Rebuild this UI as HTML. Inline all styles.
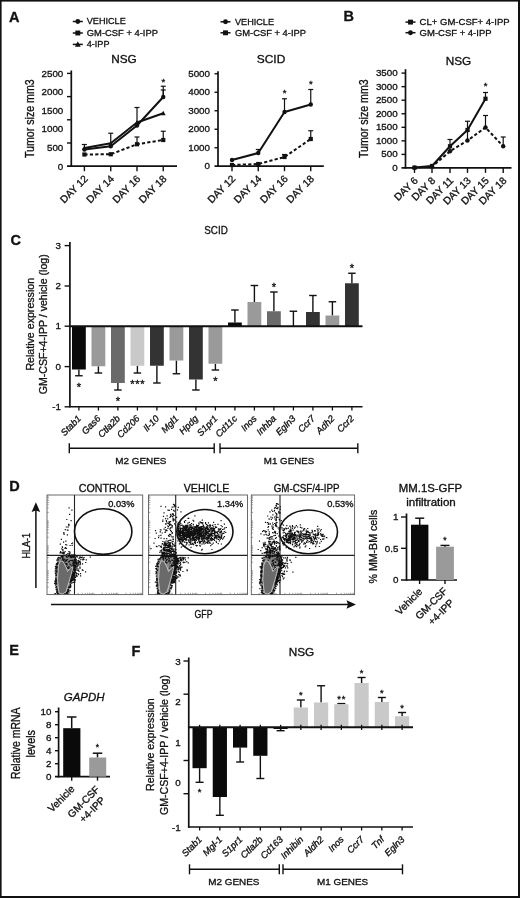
<!DOCTYPE html>
<html><head><meta charset="utf-8"><title>Figure</title>
<style>html,body{margin:0;padding:0;background:#fff}svg{display:block;filter:grayscale(1);font-family:"Liberation Sans",sans-serif}text{stroke:#111;stroke-width:.32px}</style></head>
<body>
<svg width="520" height="898" viewBox="0 0 520 898"  fill="#111">
<rect x="0" y="0" width="520" height="898" fill="#fff"/>
<rect x="0" y="0" width="520" height="1.6" fill="#111"/>
<rect x="0" y="0" width="1.6" height="898" fill="#111"/>
<rect x="518" y="0" width="2" height="898" fill="#111"/>
<rect x="0" y="896" width="520" height="2" fill="#111"/>
<text font-size="14.5" font-weight="bold" x="9" y="22">A</text>
<text font-size="14.5" font-weight="bold" x="343.5" y="20.5">B</text>
<text font-size="14.5" font-weight="bold" x="10.5" y="245.2">C</text>
<text font-size="14.5" font-weight="bold" x="9.2" y="491">D</text>
<text font-size="14.5" font-weight="bold" x="9.2" y="655.4">E</text>
<text font-size="14.5" font-weight="bold" x="131.5" y="656">F</text>
<line x1="72.8" y1="21.5" x2="82.8" y2="21.5" stroke="#111" stroke-width="1.5"/>
<circle cx="77.8" cy="21.5" r="2.45" fill="#111"/>
<text font-size="9.9" textLength="39" lengthAdjust="spacingAndGlyphs" x="86.75" y="24.4">VEHICLE</text>
<line x1="72.8" y1="33" x2="82.8" y2="33" stroke="#111" stroke-width="1.5"/>
<rect x="75.35" y="30.55" width="4.9" height="4.9" fill="#111"/>
<text font-size="9.9" textLength="71.25" lengthAdjust="spacingAndGlyphs" x="86.75" y="35.9">GM-CSF + 4-IPP</text>
<line x1="72.8" y1="44.4" x2="82.8" y2="44.4" stroke="#111" stroke-width="1.5"/>
<polygon points="74.94999999999999,46.85 80.65,46.85 77.8,41.349999999999994" fill="#111"/>
<text font-size="9.9" textLength="22.75" lengthAdjust="spacingAndGlyphs" x="86.75" y="47.3">4-IPP</text>
<line x1="220.5" y1="21.8" x2="230.5" y2="21.8" stroke="#111" stroke-width="1.5"/>
<circle cx="225.5" cy="21.8" r="2.45" fill="#111"/>
<text font-size="9.9" textLength="39" lengthAdjust="spacingAndGlyphs" x="235" y="24.7">VEHICLE</text>
<line x1="220.5" y1="32.8" x2="230.5" y2="32.8" stroke="#111" stroke-width="1.5"/>
<rect x="223.05" y="30.349999999999998" width="4.9" height="4.9" fill="#111"/>
<text font-size="9.9" textLength="71" lengthAdjust="spacingAndGlyphs" x="235" y="35.699999999999996">GM-CSF + 4-IPP</text>
<line x1="405.5" y1="22.1" x2="415.5" y2="22.1" stroke="#111" stroke-width="1.5"/>
<rect x="408.05" y="19.650000000000002" width="4.9" height="4.9" fill="#111"/>
<text font-size="9.9" textLength="90" lengthAdjust="spacingAndGlyphs" x="419.6" y="25.0">CL+ GM-CSF+ 4-IPP</text>
<line x1="405.5" y1="32.7" x2="415.5" y2="32.7" stroke="#111" stroke-width="1.5"/>
<circle cx="410.5" cy="32.7" r="2.45" fill="#111"/>
<text font-size="9.9" textLength="72" lengthAdjust="spacingAndGlyphs" x="419.6" y="35.6">GM-CSF + 4-IPP</text>
<text font-size="11.5" text-anchor="middle" textLength="25.5" lengthAdjust="spacingAndGlyphs" x="124" y="63.3">NSG</text>
<text font-size="11.5" text-anchor="middle" textLength="28.5" lengthAdjust="spacingAndGlyphs" x="271" y="63.1">SCID</text>
<text font-size="11.5" text-anchor="middle" textLength="25.5" lengthAdjust="spacingAndGlyphs" x="458.5" y="65.0">NSG</text>
<text font-size="13" textLength="78.7" lengthAdjust="spacingAndGlyphs" transform="translate(34.4 158) rotate(-90)">Tumor size mm3</text>
<text font-size="13" textLength="78.7" lengthAdjust="spacingAndGlyphs" transform="translate(367.9 158) rotate(-90)">Tumor size mm3</text>
<line x1="71.3" y1="70.5" x2="71.3" y2="167.0" stroke="#111" stroke-width="1.7"/>
<line x1="67" y1="166.2" x2="177" y2="166.2" stroke="#111" stroke-width="1.7"/>
<line x1="67" y1="73.4" x2="71.3" y2="73.4" stroke="#111" stroke-width="1.4"/>
<line x1="67" y1="96.6" x2="71.3" y2="96.6" stroke="#111" stroke-width="1.4"/>
<line x1="67" y1="119.8" x2="71.3" y2="119.8" stroke="#111" stroke-width="1.4"/>
<line x1="67" y1="143" x2="71.3" y2="143" stroke="#111" stroke-width="1.4"/>
<text font-size="9.8" text-anchor="end" x="63.3" y="76.8">2500</text>
<text font-size="9.8" text-anchor="end" x="63.3" y="95.3">2000</text>
<text font-size="9.8" text-anchor="end" x="63.3" y="113.8">1500</text>
<text font-size="9.8" text-anchor="end" x="63.3" y="132.4">1000</text>
<text font-size="9.8" text-anchor="end" x="63.3" y="150.9">500</text>
<text font-size="9.8" text-anchor="end" x="63.3" y="169.70000000000002">0</text>
<line x1="84.4" y1="166.2" x2="84.4" y2="171.2" stroke="#111" stroke-width="1.4"/>
<line x1="110.75" y1="166.2" x2="110.75" y2="171.2" stroke="#111" stroke-width="1.4"/>
<line x1="137" y1="166.2" x2="137" y2="171.2" stroke="#111" stroke-width="1.4"/>
<line x1="163.25" y1="166.2" x2="163.25" y2="171.2" stroke="#111" stroke-width="1.4"/>
<text font-size="10.2" text-anchor="end" transform="translate(88.4 179.5) rotate(-45)">DAY 12</text>
<text font-size="10.2" text-anchor="end" transform="translate(114.75 179.5) rotate(-45)">DAY 14</text>
<text font-size="10.2" text-anchor="end" transform="translate(141.0 179.5) rotate(-45)">DAY 16</text>
<text font-size="10.2" text-anchor="end" transform="translate(167.25 179.5) rotate(-45)">DAY 18</text>
<line x1="84.4" y1="148" x2="84.4" y2="144.5" stroke="#111" stroke-width="1.2"/>
<line x1="81.9" y1="144.5" x2="86.9" y2="144.5" stroke="#111" stroke-width="1.2"/>
<line x1="110.75" y1="143" x2="110.75" y2="133.25" stroke="#111" stroke-width="1.2"/>
<line x1="108.25" y1="133.25" x2="113.25" y2="133.25" stroke="#111" stroke-width="1.2"/>
<line x1="137" y1="122.5" x2="137" y2="107.5" stroke="#111" stroke-width="1.2"/>
<line x1="134.5" y1="107.5" x2="139.5" y2="107.5" stroke="#111" stroke-width="1.2"/>
<line x1="163.25" y1="97" x2="163.25" y2="86.25" stroke="#111" stroke-width="1.2"/>
<line x1="160.75" y1="86.25" x2="165.75" y2="86.25" stroke="#111" stroke-width="1.2"/>
<line x1="163.25" y1="97" x2="163.25" y2="90" stroke="#111" stroke-width="1.2"/>
<line x1="160.75" y1="90" x2="165.75" y2="90" stroke="#111" stroke-width="1.2"/>
<line x1="137" y1="144.25" x2="137" y2="137" stroke="#111" stroke-width="1.2"/>
<line x1="134.5" y1="137" x2="139.5" y2="137" stroke="#111" stroke-width="1.2"/>
<line x1="163.25" y1="140" x2="163.25" y2="131.25" stroke="#111" stroke-width="1.2"/>
<line x1="160.75" y1="131.25" x2="165.75" y2="131.25" stroke="#111" stroke-width="1.2"/>
<polyline points="84.4,154.5 110.75,154.25 137,144.25 163.25,140" fill="none" stroke="#111" stroke-width="2.0" stroke-linejoin="round" stroke-dasharray="3.2 2.2"/>
<polyline points="84.4,148 110.75,143.25 137,122.5 163.25,113.25" fill="none" stroke="#111" stroke-width="2.0" stroke-linejoin="round"/>
<polyline points="84.4,149.5 110.75,146.25 137,125.5 163.25,97" fill="none" stroke="#111" stroke-width="2.0" stroke-linejoin="round"/>
<circle cx="84.4" cy="149.5" r="2.2" fill="#111"/>
<circle cx="110.75" cy="146.25" r="2.2" fill="#111"/>
<circle cx="137" cy="125.5" r="2.2" fill="#111"/>
<circle cx="163.25" cy="97" r="2.2" fill="#111"/>
<polygon points="82.0,150.0 86.80000000000001,150.0 84.4,145.4" fill="#111"/>
<polygon points="108.35,145.25 113.15,145.25 110.75,140.65" fill="#111"/>
<polygon points="134.6,124.5 139.4,124.5 137,119.9" fill="#111"/>
<polygon points="160.85,115.25 165.65,115.25 163.25,110.65" fill="#111"/>
<rect x="82.30000000000001" y="152.4" width="4.2" height="4.2" fill="#111"/>
<rect x="108.65" y="152.15" width="4.2" height="4.2" fill="#111"/>
<rect x="134.9" y="142.15" width="4.2" height="4.2" fill="#111"/>
<rect x="161.15" y="137.9" width="4.2" height="4.2" fill="#111"/>
<text font-size="9.5" text-anchor="middle" x="163.25" y="85.1">*</text>
<line x1="218" y1="71.2" x2="218" y2="167.0" stroke="#111" stroke-width="1.7"/>
<line x1="214.5" y1="166.2" x2="323.8" y2="166.2" stroke="#111" stroke-width="1.7"/>
<line x1="214.5" y1="73.75" x2="218" y2="73.75" stroke="#111" stroke-width="1.4"/>
<text font-size="9.8" text-anchor="end" x="210" y="76.75">5000</text>
<line x1="214.5" y1="92.25" x2="218" y2="92.25" stroke="#111" stroke-width="1.4"/>
<text font-size="9.8" text-anchor="end" x="210" y="95.25">4000</text>
<line x1="214.5" y1="110.75" x2="218" y2="110.75" stroke="#111" stroke-width="1.4"/>
<text font-size="9.8" text-anchor="end" x="210" y="113.75">3000</text>
<line x1="214.5" y1="129.25" x2="218" y2="129.25" stroke="#111" stroke-width="1.4"/>
<text font-size="9.8" text-anchor="end" x="210" y="132.25">2000</text>
<line x1="214.5" y1="147.75" x2="218" y2="147.75" stroke="#111" stroke-width="1.4"/>
<text font-size="9.8" text-anchor="end" x="210" y="150.75">1000</text>
<text font-size="9.8" text-anchor="end" x="210" y="169.25">0</text>
<line x1="232" y1="166.2" x2="232" y2="171.2" stroke="#111" stroke-width="1.4"/>
<line x1="258.25" y1="166.2" x2="258.25" y2="171.2" stroke="#111" stroke-width="1.4"/>
<line x1="284.5" y1="166.2" x2="284.5" y2="171.2" stroke="#111" stroke-width="1.4"/>
<line x1="310.75" y1="166.2" x2="310.75" y2="171.2" stroke="#111" stroke-width="1.4"/>
<text font-size="10.2" text-anchor="end" transform="translate(236.0 179.5) rotate(-45)">DAY 12</text>
<text font-size="10.2" text-anchor="end" transform="translate(262.25 179.5) rotate(-45)">DAY 14</text>
<text font-size="10.2" text-anchor="end" transform="translate(288.5 179.5) rotate(-45)">DAY 16</text>
<text font-size="10.2" text-anchor="end" transform="translate(314.75 179.5) rotate(-45)">DAY 18</text>
<line x1="258.25" y1="153" x2="258.25" y2="149.5" stroke="#111" stroke-width="1.2"/>
<line x1="255.75" y1="149.5" x2="260.75" y2="149.5" stroke="#111" stroke-width="1.2"/>
<line x1="284.5" y1="112" x2="284.5" y2="98.75" stroke="#111" stroke-width="1.2"/>
<line x1="282.0" y1="98.75" x2="287.0" y2="98.75" stroke="#111" stroke-width="1.2"/>
<line x1="310.75" y1="104.5" x2="310.75" y2="89.5" stroke="#111" stroke-width="1.2"/>
<line x1="308.25" y1="89.5" x2="313.25" y2="89.5" stroke="#111" stroke-width="1.2"/>
<line x1="310.75" y1="139" x2="310.75" y2="130.75" stroke="#111" stroke-width="1.2"/>
<line x1="308.25" y1="130.75" x2="313.25" y2="130.75" stroke="#111" stroke-width="1.2"/>
<line x1="284.5" y1="157" x2="284.5" y2="154.5" stroke="#111" stroke-width="1.2"/>
<line x1="282.0" y1="154.5" x2="287.0" y2="154.5" stroke="#111" stroke-width="1.2"/>
<polyline points="232,165 258.25,164 284.5,157 310.75,139" fill="none" stroke="#111" stroke-width="2.0" stroke-linejoin="round" stroke-dasharray="3.2 2.2"/>
<polyline points="232,160 258.25,153 284.5,112 310.75,104.5" fill="none" stroke="#111" stroke-width="2.0" stroke-linejoin="round"/>
<circle cx="232" cy="160" r="2.2" fill="#111"/>
<circle cx="258.25" cy="153" r="2.2" fill="#111"/>
<circle cx="284.5" cy="112" r="2.2" fill="#111"/>
<circle cx="310.75" cy="104.5" r="2.2" fill="#111"/>
<rect x="229.9" y="162.9" width="4.2" height="4.2" fill="#111"/>
<rect x="256.15" y="161.9" width="4.2" height="4.2" fill="#111"/>
<rect x="282.4" y="154.9" width="4.2" height="4.2" fill="#111"/>
<rect x="308.65" y="136.9" width="4.2" height="4.2" fill="#111"/>
<text font-size="9.5" text-anchor="middle" x="284.5" y="95.8">*</text>
<text font-size="9.5" text-anchor="middle" x="310.75" y="86.8">*</text>
<line x1="405.5" y1="69.2" x2="405.5" y2="168.70000000000002" stroke="#111" stroke-width="1.7"/>
<line x1="401.5" y1="167.9" x2="511.5" y2="167.9" stroke="#111" stroke-width="1.7"/>
<line x1="401.5" y1="73.1" x2="405.5" y2="73.1" stroke="#111" stroke-width="1.4"/>
<text font-size="9.8" text-anchor="end" x="397.7" y="76.1">3500</text>
<line x1="401.5" y1="86.64999999999999" x2="405.5" y2="86.64999999999999" stroke="#111" stroke-width="1.4"/>
<text font-size="9.8" text-anchor="end" x="397.7" y="89.64999999999999">3000</text>
<line x1="401.5" y1="100.19999999999999" x2="405.5" y2="100.19999999999999" stroke="#111" stroke-width="1.4"/>
<text font-size="9.8" text-anchor="end" x="397.7" y="103.19999999999999">2500</text>
<line x1="401.5" y1="113.75" x2="405.5" y2="113.75" stroke="#111" stroke-width="1.4"/>
<text font-size="9.8" text-anchor="end" x="397.7" y="116.75">2000</text>
<line x1="401.5" y1="127.3" x2="405.5" y2="127.3" stroke="#111" stroke-width="1.4"/>
<text font-size="9.8" text-anchor="end" x="397.7" y="130.3">1500</text>
<line x1="401.5" y1="140.85" x2="405.5" y2="140.85" stroke="#111" stroke-width="1.4"/>
<text font-size="9.8" text-anchor="end" x="397.7" y="143.85">1000</text>
<line x1="401.5" y1="154.4" x2="405.5" y2="154.4" stroke="#111" stroke-width="1.4"/>
<text font-size="9.8" text-anchor="end" x="397.7" y="157.4">500</text>
<text font-size="9.8" text-anchor="end" x="397.7" y="170.95">0</text>
<line x1="414.5" y1="167.9" x2="414.5" y2="172.9" stroke="#111" stroke-width="1.4"/>
<line x1="432" y1="167.9" x2="432" y2="172.9" stroke="#111" stroke-width="1.4"/>
<line x1="450" y1="167.9" x2="450" y2="172.9" stroke="#111" stroke-width="1.4"/>
<line x1="467.5" y1="167.9" x2="467.5" y2="172.9" stroke="#111" stroke-width="1.4"/>
<line x1="485.5" y1="167.9" x2="485.5" y2="172.9" stroke="#111" stroke-width="1.4"/>
<line x1="503.2" y1="167.9" x2="503.2" y2="172.9" stroke="#111" stroke-width="1.4"/>
<text font-size="10.2" text-anchor="end" transform="translate(418.5 181.2) rotate(-45)">DAY 6</text>
<text font-size="10.2" text-anchor="end" transform="translate(436.0 181.2) rotate(-45)">DAY 8</text>
<text font-size="10.2" text-anchor="end" transform="translate(454.0 181.2) rotate(-45)">DAY 11</text>
<text font-size="10.2" text-anchor="end" transform="translate(471.5 181.2) rotate(-45)">DAY 13</text>
<text font-size="10.2" text-anchor="end" transform="translate(489.5 181.2) rotate(-45)">DAY 15</text>
<text font-size="10.2" text-anchor="end" transform="translate(507.2 181.2) rotate(-45)">DAY 18</text>
<line x1="450" y1="146.25" x2="450" y2="139.5" stroke="#111" stroke-width="1.2"/>
<line x1="447.5" y1="139.5" x2="452.5" y2="139.5" stroke="#111" stroke-width="1.2"/>
<line x1="467.5" y1="130" x2="467.5" y2="121.25" stroke="#111" stroke-width="1.2"/>
<line x1="465.0" y1="121.25" x2="470.0" y2="121.25" stroke="#111" stroke-width="1.2"/>
<line x1="485.5" y1="98.75" x2="485.5" y2="92.5" stroke="#111" stroke-width="1.2"/>
<line x1="483.0" y1="92.5" x2="488.0" y2="92.5" stroke="#111" stroke-width="1.2"/>
<line x1="485.5" y1="127.5" x2="485.5" y2="115.5" stroke="#111" stroke-width="1.2"/>
<line x1="483.0" y1="115.5" x2="488.0" y2="115.5" stroke="#111" stroke-width="1.2"/>
<line x1="503.2" y1="146.25" x2="503.2" y2="137" stroke="#111" stroke-width="1.2"/>
<line x1="500.7" y1="137" x2="505.7" y2="137" stroke="#111" stroke-width="1.2"/>
<line x1="467.5" y1="140.5" x2="467.5" y2="131" stroke="#111" stroke-width="1.2"/>
<line x1="465.5" y1="131" x2="469.5" y2="131" stroke="#111" stroke-width="1.2"/>
<line x1="450" y1="151.25" x2="450" y2="146.5" stroke="#111" stroke-width="1.2"/>
<line x1="448.0" y1="146.5" x2="452.0" y2="146.5" stroke="#111" stroke-width="1.2"/>
<polyline points="414.5,167.6 432,166.6 450,151.25 467.5,140.5 485.5,127.5 503.2,146.25" fill="none" stroke="#111" stroke-width="2.0" stroke-linejoin="round" stroke-dasharray="3.2 2.2"/>
<polyline points="414.5,167.6 432,166 450,146.25 467.5,130 485.5,98.75" fill="none" stroke="#111" stroke-width="2.0" stroke-linejoin="round"/>
<rect x="412.4" y="165.5" width="4.2" height="4.2" fill="#111"/>
<rect x="429.9" y="163.9" width="4.2" height="4.2" fill="#111"/>
<rect x="447.9" y="144.15" width="4.2" height="4.2" fill="#111"/>
<rect x="465.4" y="127.9" width="4.2" height="4.2" fill="#111"/>
<rect x="483.4" y="96.65" width="4.2" height="4.2" fill="#111"/>
<circle cx="414.5" cy="167.6" r="2.2" fill="#111"/>
<circle cx="432" cy="166.6" r="2.2" fill="#111"/>
<circle cx="450" cy="151.25" r="2.2" fill="#111"/>
<circle cx="467.5" cy="140.5" r="2.2" fill="#111"/>
<circle cx="485.5" cy="127.5" r="2.2" fill="#111"/>
<circle cx="503.2" cy="146.25" r="2.2" fill="#111"/>
<text font-size="9.5" text-anchor="middle" x="485.5" y="89.0">*</text>
<text font-size="11.5" text-anchor="middle" textLength="23.5" lengthAdjust="spacingAndGlyphs" x="216" y="234.2">SCID</text>
<line x1="69.9" y1="242" x2="69.9" y2="407.3" stroke="#111" stroke-width="1.7"/>
<line x1="64.6" y1="245.6" x2="69.9" y2="245.6" stroke="#111" stroke-width="1.4"/>
<text font-size="9.8" text-anchor="end" x="61" y="248.7">3</text>
<line x1="64.6" y1="286" x2="69.9" y2="286" stroke="#111" stroke-width="1.4"/>
<text font-size="9.8" text-anchor="end" x="61" y="289.1">2</text>
<line x1="64.6" y1="326.2" x2="69.9" y2="326.2" stroke="#111" stroke-width="1.4"/>
<text font-size="9.8" text-anchor="end" x="61" y="329.3">1</text>
<line x1="64.6" y1="366.6" x2="69.9" y2="366.6" stroke="#111" stroke-width="1.4"/>
<text font-size="9.8" text-anchor="end" x="61" y="369.70000000000005">0</text>
<line x1="64.6" y1="406.8" x2="69.9" y2="406.8" stroke="#111" stroke-width="1.4"/>
<text font-size="9.8" text-anchor="end" x="61" y="409.90000000000003">-1</text>
<text font-size="11.4" textLength="92.7" lengthAdjust="spacingAndGlyphs" transform="translate(33.9 370.6) rotate(-90)">Relative expression</text>
<text font-size="11.4" textLength="140" lengthAdjust="spacingAndGlyphs" transform="translate(47.0 394.3) rotate(-90)">GM-CSF+4-IPP / vehicle (log)</text>
<line x1="78.9" y1="369.5" x2="78.9" y2="375.75" stroke="#111" stroke-width="1.4"/>
<line x1="75.15" y1="375.75" x2="82.65" y2="375.75" stroke="#111" stroke-width="1.4"/>
<rect x="72.0" y="326.2" width="13.8" height="43.30000000000001" fill="#0a0a0a"/>
<text font-size="11" text-anchor="middle" x="78.9" y="390.6">*</text>
<line x1="78.9" y1="406.8" x2="78.9" y2="410.5" stroke="#111" stroke-width="1.3"/>
<text font-size="9.3" text-anchor="end" font-style="italic" transform="translate(81.7 419.2) rotate(-45)">Stab1</text>
<line x1="98.4" y1="366.25" x2="98.4" y2="373" stroke="#111" stroke-width="1.4"/>
<line x1="94.65" y1="373" x2="102.15" y2="373" stroke="#111" stroke-width="1.4"/>
<rect x="91.5" y="326.2" width="13.8" height="40.05000000000001" fill="#9a9a9a"/>
<line x1="98.4" y1="406.8" x2="98.4" y2="410.5" stroke="#111" stroke-width="1.3"/>
<text font-size="9.3" text-anchor="end" font-style="italic" transform="translate(101.2 419.2) rotate(-45)">Gas6</text>
<line x1="117.9" y1="383" x2="117.9" y2="390" stroke="#111" stroke-width="1.4"/>
<line x1="114.15" y1="390" x2="121.65" y2="390" stroke="#111" stroke-width="1.4"/>
<rect x="111.0" y="326.2" width="13.8" height="56.80000000000001" fill="#6a6a6a"/>
<text font-size="11" text-anchor="middle" x="117.9" y="404.6">*</text>
<line x1="117.9" y1="406.8" x2="117.9" y2="410.5" stroke="#111" stroke-width="1.3"/>
<text font-size="9.3" text-anchor="end" font-style="italic" transform="translate(120.7 419.2) rotate(-45)">Ctla2b</text>
<line x1="137.4" y1="365.75" x2="137.4" y2="373" stroke="#111" stroke-width="1.4"/>
<line x1="133.65" y1="373" x2="141.15" y2="373" stroke="#111" stroke-width="1.4"/>
<rect x="130.5" y="326.2" width="13.8" height="39.55000000000001" fill="#c9c9c9"/>
<text font-size="11" letter-spacing="0.8" text-anchor="middle" x="137.8" y="388.1">***</text>
<line x1="137.4" y1="406.8" x2="137.4" y2="410.5" stroke="#111" stroke-width="1.3"/>
<text font-size="9.3" text-anchor="end" font-style="italic" transform="translate(140.2 419.2) rotate(-45)">Cd206</text>
<line x1="156.9" y1="365.75" x2="156.9" y2="383" stroke="#111" stroke-width="1.4"/>
<line x1="153.15" y1="383" x2="160.65" y2="383" stroke="#111" stroke-width="1.4"/>
<rect x="150.0" y="326.2" width="13.8" height="39.55000000000001" fill="#333"/>
<line x1="156.9" y1="406.8" x2="156.9" y2="410.5" stroke="#111" stroke-width="1.3"/>
<text font-size="9.3" text-anchor="end" font-style="italic" transform="translate(159.7 419.2) rotate(-45)">Il-10</text>
<line x1="176.4" y1="360.5" x2="176.4" y2="373.75" stroke="#111" stroke-width="1.4"/>
<line x1="172.65" y1="373.75" x2="180.15" y2="373.75" stroke="#111" stroke-width="1.4"/>
<rect x="169.5" y="326.2" width="13.8" height="34.30000000000001" fill="#9a9a9a"/>
<line x1="176.4" y1="406.8" x2="176.4" y2="410.5" stroke="#111" stroke-width="1.3"/>
<text font-size="9.3" text-anchor="end" font-style="italic" transform="translate(179.2 419.2) rotate(-45)">Mgl1</text>
<line x1="195.9" y1="379.5" x2="195.9" y2="390" stroke="#111" stroke-width="1.4"/>
<line x1="192.15" y1="390" x2="199.65" y2="390" stroke="#111" stroke-width="1.4"/>
<rect x="189.0" y="326.2" width="13.8" height="53.30000000000001" fill="#333"/>
<line x1="195.9" y1="406.8" x2="195.9" y2="410.5" stroke="#111" stroke-width="1.3"/>
<text font-size="9.3" text-anchor="end" font-style="italic" transform="translate(198.7 419.2) rotate(-45)">Hpdg</text>
<line x1="215.4" y1="363.75" x2="215.4" y2="370" stroke="#111" stroke-width="1.4"/>
<line x1="211.65" y1="370" x2="219.15" y2="370" stroke="#111" stroke-width="1.4"/>
<rect x="208.5" y="326.2" width="13.8" height="37.55000000000001" fill="#9a9a9a"/>
<text font-size="11" text-anchor="middle" x="215.4" y="384.6">*</text>
<line x1="215.4" y1="406.8" x2="215.4" y2="410.5" stroke="#111" stroke-width="1.3"/>
<text font-size="9.3" text-anchor="end" font-style="italic" transform="translate(218.2 419.2) rotate(-45)">S1pr1</text>
<line x1="234.9" y1="322.5" x2="234.9" y2="310" stroke="#111" stroke-width="1.4"/>
<line x1="231.15" y1="310" x2="238.65" y2="310" stroke="#111" stroke-width="1.4"/>
<rect x="228.0" y="322.5" width="13.8" height="3.6999999999999886" fill="#0a0a0a"/>
<line x1="234.9" y1="406.8" x2="234.9" y2="410.5" stroke="#111" stroke-width="1.3"/>
<text font-size="9.3" text-anchor="end" font-style="italic" transform="translate(237.7 419.2) rotate(-45)">Cd11c</text>
<line x1="254.4" y1="302" x2="254.4" y2="285.5" stroke="#111" stroke-width="1.4"/>
<line x1="250.65" y1="285.5" x2="258.15" y2="285.5" stroke="#111" stroke-width="1.4"/>
<rect x="247.5" y="302" width="13.8" height="24.19999999999999" fill="#9a9a9a"/>
<line x1="254.4" y1="406.8" x2="254.4" y2="410.5" stroke="#111" stroke-width="1.3"/>
<text font-size="9.3" text-anchor="end" font-style="italic" transform="translate(257.2 419.2) rotate(-45)">Inos</text>
<line x1="273.9" y1="311.25" x2="273.9" y2="292" stroke="#111" stroke-width="1.4"/>
<line x1="270.15" y1="292" x2="277.65" y2="292" stroke="#111" stroke-width="1.4"/>
<rect x="267.0" y="311.25" width="13.8" height="14.949999999999989" fill="#6a6a6a"/>
<text font-size="11" text-anchor="middle" x="273.9" y="290.6">*</text>
<line x1="273.9" y1="406.8" x2="273.9" y2="410.5" stroke="#111" stroke-width="1.3"/>
<text font-size="9.3" text-anchor="end" font-style="italic" transform="translate(276.7 419.2) rotate(-45)">Inhba</text>
<line x1="293.4" y1="326" x2="293.4" y2="311.25" stroke="#111" stroke-width="1.4"/>
<line x1="289.65" y1="311.25" x2="297.15" y2="311.25" stroke="#111" stroke-width="1.4"/>
<line x1="293.4" y1="406.8" x2="293.4" y2="410.5" stroke="#111" stroke-width="1.3"/>
<text font-size="9.3" text-anchor="end" font-style="italic" transform="translate(296.2 419.2) rotate(-45)">Egln3</text>
<line x1="312.9" y1="312" x2="312.9" y2="295.5" stroke="#111" stroke-width="1.4"/>
<line x1="309.15" y1="295.5" x2="316.65" y2="295.5" stroke="#111" stroke-width="1.4"/>
<rect x="306.0" y="312" width="13.8" height="14.199999999999989" fill="#333"/>
<line x1="312.9" y1="406.8" x2="312.9" y2="410.5" stroke="#111" stroke-width="1.3"/>
<text font-size="9.3" text-anchor="end" font-style="italic" transform="translate(315.7 419.2) rotate(-45)">Ccr7</text>
<line x1="332.4" y1="315.5" x2="332.4" y2="301.75" stroke="#111" stroke-width="1.4"/>
<line x1="328.65" y1="301.75" x2="336.15" y2="301.75" stroke="#111" stroke-width="1.4"/>
<rect x="325.5" y="315.5" width="13.8" height="10.699999999999989" fill="#9a9a9a"/>
<line x1="332.4" y1="406.8" x2="332.4" y2="410.5" stroke="#111" stroke-width="1.3"/>
<text font-size="9.3" text-anchor="end" font-style="italic" transform="translate(335.2 419.2) rotate(-45)">Adh2</text>
<line x1="351.9" y1="283.25" x2="351.9" y2="273.25" stroke="#111" stroke-width="1.4"/>
<line x1="348.15" y1="273.25" x2="355.65" y2="273.25" stroke="#111" stroke-width="1.4"/>
<rect x="345.0" y="283.25" width="13.8" height="42.94999999999999" fill="#333"/>
<text font-size="11" text-anchor="middle" x="351.9" y="271.8">*</text>
<line x1="351.9" y1="406.8" x2="351.9" y2="410.5" stroke="#111" stroke-width="1.3"/>
<text font-size="9.3" text-anchor="end" font-style="italic" transform="translate(354.7 419.2) rotate(-45)">Ccr2</text>
<line x1="69.10000000000001" y1="326.2" x2="362.5" y2="326.2" stroke="#111" stroke-width="2"/>
<line x1="69.10000000000001" y1="406.8" x2="362.5" y2="406.8" stroke="#111" stroke-width="1.5"/>
<line x1="69.3" y1="448.3" x2="214.2" y2="448.3" stroke="#111" stroke-width="1.4"/>
<line x1="69.3" y1="443.3" x2="69.3" y2="453.3" stroke="#111" stroke-width="1.4"/>
<line x1="214.2" y1="443.3" x2="214.2" y2="453.3" stroke="#111" stroke-width="1.4"/>
<line x1="220" y1="448.3" x2="357.8" y2="448.3" stroke="#111" stroke-width="1.4"/>
<line x1="220" y1="443.3" x2="220" y2="453.3" stroke="#111" stroke-width="1.4"/>
<line x1="357.8" y1="443.3" x2="357.8" y2="453.3" stroke="#111" stroke-width="1.4"/>
<text font-size="9.6" textLength="51.2" lengthAdjust="spacingAndGlyphs" x="115.2" y="463.7">M2 GENES</text>
<text font-size="9.6" textLength="50.5" lengthAdjust="spacingAndGlyphs" x="263.8" y="463.7">M1 GENES</text>
<text font-size="10.6" textLength="52" lengthAdjust="spacingAndGlyphs" x="78.75" y="491.7">CONTROL</text>
<text font-size="10.6" textLength="45.6" lengthAdjust="spacingAndGlyphs" x="183.75" y="491.7">VEHICLE</text>
<text font-size="10.6" textLength="65.7" lengthAdjust="spacingAndGlyphs" x="273.75" y="491.7">GM-CSF/4-IPP</text>
<text font-size="11.5" textLength="25.4" lengthAdjust="spacingAndGlyphs" transform="translate(29.7 558.5) rotate(-90)">HLA-1</text>
<text font-size="10.2" textLength="18" lengthAdjust="spacingAndGlyphs" x="194.5" y="618">GFP</text>
<line x1="35.9" y1="588" x2="35.9" y2="510" stroke="#111" stroke-width="1.5"/>
<polygon points="35.9,502.3 31.6,512 35.9,510.6 40.2,512" fill="#111"/>
<line x1="51" y1="604.5" x2="349" y2="604.5" stroke="#111" stroke-width="1.5"/>
<polygon points="356,604.5 346.5,600.2 348,604.5 346.5,608.8" fill="#111"/>
<rect x="47" y="495.0" width="95.69999999999999" height="99.60000000000002" fill="none" stroke="#5a5a5a" stroke-width=".9"/>
<path d="M47 587.1h1.8M54.2 594.6v-1.8M47 582.7h1.8M58.4 594.6v-1.8M47 579.6h1.8M61.4 594.6v-1.8M47 577.2h1.8M63.7 594.6v-1.8M47 575.2h1.8M65.6 594.6v-1.8M47 573.6h1.8M67.2 594.6v-1.8M47 572.1h1.8M68.6 594.6v-1.8M47 570.8h1.8M69.8 594.6v-1.8M47 562.2h1.8M78.1 594.6v-1.8M47 557.8h1.8M82.3 594.6v-1.8M47 554.7h1.8M85.3 594.6v-1.8M47 552.3h1.8M87.6 594.6v-1.8M47 550.3h1.8M89.5 594.6v-1.8M47 548.7h1.8M91.1 594.6v-1.8M47 547.2h1.8M92.5 594.6v-1.8M47 545.9h1.8M93.8 594.6v-1.8M47 537.3h1.8M102.1 594.6v-1.8M47 532.9h1.8M106.3 594.6v-1.8M47 529.8h1.8M109.3 594.6v-1.8M47 527.4h1.8M111.6 594.6v-1.8M47 525.4h1.8M113.5 594.6v-1.8M47 523.8h1.8M115.1 594.6v-1.8M47 522.3h1.8M116.5 594.6v-1.8M47 521.0h1.8M117.7 594.6v-1.8M47 512.4h1.8M126.0 594.6v-1.8M47 508.0h1.8M130.2 594.6v-1.8M47 504.9h1.8M133.2 594.6v-1.8M47 502.5h1.8M135.5 594.6v-1.8M47 500.5h1.8M137.4 594.6v-1.8M47 498.9h1.8M139.0 594.6v-1.8M47 497.4h1.8M140.4 594.6v-1.8M47 496.1h1.8M141.6 594.6v-1.8" stroke="#666" stroke-width=".6" fill="none"/>
<line x1="74.5" y1="495.0" x2="74.5" y2="594.6" stroke="#222" stroke-width="1.1"/>
<line x1="47" y1="555.4" x2="142.7" y2="555.4" stroke="#222" stroke-width="1.1"/>
<ellipse cx="103.2" cy="531.6" rx="28.7" ry="22.8" fill="none" stroke="#111" stroke-width="1.6"/>
<text font-size="8.6" textLength="26.3" lengthAdjust="spacingAndGlyphs" x="108.2" y="507">0.03%</text>
<polygon points="56.5,594.2 55.0,580.0 55.6,567.6 57.5,559.1 60.0,556.4 66.5,555.8 73.5,555.8 75.5,558.6 74.5,570.0 71.8,580.0 67.8,592.0 64.5,594.4" fill="#858585"/>
<path d="M66.2 560.6h1.2M71.4 557.5h1.2M62.1 558.2h1.2M67.8 587.7h1.2M74.7 566.2h1.2M63.3 559.3h1.2M69.8 557.1h1.2M71.9 571.7h1.2M68.3 566.6h1.2M72.7 566.1h1.2M72.1 578.4h1.2M74.2 566.0h1.2M63.7 559.3h1.2M67.3 589.5h1.2M66.7 590.0h1.2M70.4 565.1h1.2M71.8 556.8h1.2M67.3 570.6h1.2M62.0 557.3h1.2M64.3 561.1h1.2M66.4 556.7h1.2M61.0 560.7h1.2M70.8 560.5h1.2M66.8 559.5h1.2M62.4 558.7h1.2M66.5 565.2h1.2M74.3 561.1h1.2M69.5 560.5h1.2M69.5 585.8h1.2M66.3 563.5h1.2M64.5 563.7h1.2M64.1 562.8h1.2M73.0 573.7h1.2M72.6 561.4h1.2M63.0 560.6h1.2M67.9 589.5h1.2M74.2 563.0h1.2M67.7 591.3h1.2M68.0 561.9h1.2M72.6 576.9h1.2M70.0 585.0h1.2M69.2 582.3h1.2M74.4 560.1h1.2M71.6 560.3h1.2M69.2 568.2h1.2M71.0 575.1h1.2M62.0 594.0h1.2M65.3 559.8h1.2M67.8 591.1h1.2M74.1 564.9h1.2M70.1 582.6h1.2M62.4 556.9h1.2M72.0 571.6h1.2M68.3 568.2h1.2M65.3 559.8h1.2M69.4 564.1h1.2M62.8 561.1h1.2M66.0 566.8h1.2M73.2 566.2h1.2M69.0 561.7h1.2M68.9 588.0h1.2M67.5 568.5h1.2M61.9 559.8h1.2M65.1 561.1h1.2M65.5 564.3h1.2M65.2 593.1h1.2M64.9 593.2h1.2M65.9 563.9h1.2M67.2 567.6h1.2M69.1 588.0h1.2M71.0 583.1h1.2M70.2 586.5h1.2M75.5 562.7h1.2M65.8 592.5h1.2M75.0 572.0h1.2M72.8 572.5h1.2M54.5 571.0h1.2M57.4 591.3h1.2M55.2 582.3h1.2M58.2 557.4h1.2M55.8 583.9h1.2M68.5 586.6h1.2M75.6 560.0h1.2M73.8 566.8h1.2M74.4 567.1h1.2M73.8 572.2h1.2M70.8 556.6h1.2M57.5 593.6h1.2M71.2 583.2h1.2M72.1 579.5h1.2M73.6 555.5h1.2M74.8 557.8h1.2M73.3 570.1h1.2M55.3 587.7h1.2M71.5 576.3h1.2M55.6 568.6h1.2M55.3 587.3h1.2M55.5 566.6h1.2M72.9 575.9h1.2M54.8 573.2h1.2M72.9 578.0h1.2M59.2 593.6h1.2M71.8 557.0h1.2M59.6 558.2h1.2M69.5 555.8h1.2M73.9 573.3h1.2M70.6 579.2h1.2M75.3 566.4h1.2M75.1 570.4h1.2M55.8 586.5h1.2M55.7 579.4h1.2M56.8 567.3h1.2M71.9 575.9h1.2M57.2 562.9h1.2M76.0 562.4h1.2M56.4 592.7h1.2M55.5 587.4h1.2M55.3 567.2h1.2M74.2 571.4h1.2M73.5 574.1h1.2M74.4 571.7h1.2M56.8 564.4h1.2M72.9 557.2h1.2M68.9 555.1h1.2M69.5 556.1h1.2M54.0 583.3h1.2M67.1 593.4h1.2M55.4 573.7h1.2M57.6 593.6h1.2M63.1 593.6h1.2M56.6 592.5h1.2M68.5 555.5h1.2M69.8 584.3h1.2M59.5 593.6h1.2M68.0 555.5h1.2M55.7 567.9h1.2M55.1 573.3h1.2M63.3 593.6h1.2M56.3 572.1h1.2M75.3 562.1h1.2M55.1 580.6h1.2M76.0 556.2h1.2M60.9 593.6h1.2M54.3 581.0h1.2M70.2 585.8h1.2M73.5 554.6h1.2M68.0 591.1h1.2M72.8 574.1h1.2M55.2 571.2h1.2M66.6 592.6h1.2M71.2 557.0h1.2M56.2 591.9h1.2M57.4 593.6h1.2M70.4 557.7h1.2M68.8 554.3h1.2M56.5 563.7h1.2M55.7 580.3h1.2M57.3 558.4h1.2M56.9 562.8h1.2M68.3 587.1h1.2M56.5 592.6h1.2M71.8 578.9h1.2M69.5 587.3h1.2M54.5 581.7h1.2M64.0 593.6h1.2M73.0 576.0h1.2M67.1 593.6h1.2M55.7 564.3h1.2M57.5 558.5h1.2M60.7 556.3h1.2M57.0 593.2h1.2M75.5 563.0h1.2M57.2 558.1h1.2M65.7 554.6h1.2M56.5 566.3h1.2M56.3 589.6h1.2M56.4 583.7h1.2M70.0 587.1h1.2M56.7 564.4h1.2M63.0 593.6h1.2M55.9 568.6h1.2M54.9 566.5h1.2M73.5 556.5h1.2M55.6 575.2h1.2M59.4 558.0h1.2M60.7 593.6h1.2M68.3 592.2h1.2M69.9 584.7h1.2M74.5 567.7h1.2M65.5 593.0h1.2M62.9 593.6h1.2M74.7 559.5h1.2M72.6 575.9h1.2M56.6 590.1h1.2M72.0 577.7h1.2M66.5 557.5h1.2M71.6 580.3h1.2M74.1 569.2h1.2M57.8 563.1h1.2M55.6 589.6h1.2M63.9 593.6h1.2M56.7 581.3h1.2M68.1 556.4h1.2M56.2 560.1h1.2M56.0 563.9h1.2M73.3 578.1h1.2M57.9 593.0h1.2M56.5 568.2h1.2M73.9 570.4h1.2M56.9 564.0h1.2M73.7 559.5h1.2M62.0 556.8h1.2M55.8 575.3h1.2M55.2 578.1h1.2M57.3 572.2h1.2M65.6 593.5h1.2M72.5 555.5h1.2M56.3 571.1h1.2M66.0 593.1h1.2M57.0 593.6h1.2M65.9 556.6h1.2M55.2 579.5h1.2M55.4 575.3h1.2M54.8 584.9h1.2M57.8 559.8h1.2M55.3 583.3h1.2M56.4 570.0h1.2M55.6 567.6h1.2M75.5 560.7h1.2M66.6 591.7h1.2M71.6 578.6h1.2M62.4 556.6h1.2M62.4 556.6h1.2M73.4 557.0h1.2M60.7 556.9h1.2M56.8 559.8h1.2M55.9 586.6h1.2M55.5 566.0h1.2M59.5 593.6h1.2M55.7 581.9h1.2M73.2 556.2h1.2M74.5 567.1h1.2M68.2 589.9h1.2M55.2 570.8h1.2M55.6 566.5h1.2M54.8 568.8h1.2M62.3 556.1h1.2M68.2 553.8h1.2M61.1 592.9h1.2M69.6 590.7h1.2M66.2 591.2h1.2M56.7 591.7h1.2M56.6 589.2h1.2M73.8 575.4h1.2M66.7 592.4h1.2M69.9 555.4h1.2M75.3 562.4h1.2M54.8 593.6h1.2M61.2 556.9h1.2M63.3 593.6h1.2M74.6 557.9h1.2M70.1 581.2h1.2M71.7 574.6h1.2M70.5 577.3h1.2M82.2 559.9h1.2M72.8 566.3h1.2M73.1 579.6h1.2M70.2 579.8h1.2M82.4 559.6h1.2M71.4 567.2h1.2M70.1 577.6h1.2M85.0 571.9h1.2M71.8 566.3h1.2M79.3 561.5h1.2M76.6 576.2h1.2M75.2 563.5h1.2M75.9 573.5h1.2M70.3 574.2h1.2M73.0 565.0h1.2M72.3 560.8h1.2M75.1 572.9h1.2M70.2 580.2h1.2M73.8 560.3h1.2M83.5 557.5h1.2M75.2 557.0h1.2M73.4 566.2h1.2M79.4 562.7h1.2M76.4 562.2h1.2M72.4 573.1h1.2M68.6 581.3h1.2M73.5 563.2h1.2M71.5 573.5h1.2M69.4 579.6h1.2M77.9 563.8h1.2M78.8 557.2h1.2M77.3 566.0h1.2M79.9 573.7h1.2M72.8 576.0h1.2M73.3 563.4h1.2M71.2 570.7h1.2M71.1 567.5h1.2M70.5 577.2h1.2M89.7 557.2h1.2M77.4 560.6h1.2M78.1 562.1h1.2M73.2 573.6h1.2M70.4 578.0h1.2M76.2 564.7h1.2M82.5 558.2h1.2M74.2 575.5h1.2M79.9 557.1h1.2M78.1 569.0h1.2M72.1 576.2h1.2M74.0 559.6h1.2M77.5 562.9h1.2M70.2 576.4h1.2M73.4 575.0h1.2M79.9 563.8h1.2M78.4 571.3h1.2M73.9 570.5h1.2M81.9 563.8h1.2M85.1 562.5h1.2M71.3 579.8h1.2M72.3 563.0h1.2M75.7 576.2h1.2M74.8 565.4h1.2M69.8 579.8h1.2M70.7 580.5h1.2M72.3 573.3h1.2M72.4 582.4h1.2M75.1 569.1h1.2M73.5 579.2h1.2M72.0 568.3h1.2M79.3 564.9h1.2M73.8 562.4h1.2M69.4 580.6h1.2M75.5 560.7h1.2M68.6 581.1h1.2M72.2 565.9h1.2M74.2 558.0h1.2M74.1 574.9h1.2M74.1 576.1h1.2M78.4 558.6h1.2M70.9 578.2h1.2M70.0 578.2h1.2M69.5 579.5h1.2M69.9 580.7h1.2M73.0 562.2h1.2M85.7 559.8h1.2M70.5 578.0h1.2M72.8 573.4h1.2M79.4 564.4h1.2M82.2 559.5h1.2M78.4 562.2h1.2M72.5 565.2h1.2M72.3 563.6h1.2M72.9 564.2h1.2M77.1 565.2h1.2M74.4 582.0h1.2M70.1 573.0h1.2M79.6 557.7h1.2M71.4 577.0h1.2M73.3 565.9h1.2M79.7 562.5h1.2M74.3 579.3h1.2M78.9 561.3h1.2M76.8 556.9h1.2M73.1 582.3h1.2M81.7 557.0h1.2M69.3 577.6h1.2M78.2 561.7h1.2M69.0 578.5h1.2M76.5 563.7h1.2M73.8 562.5h1.2M71.6 575.1h1.2M69.8 573.4h1.2M75.2 559.0h1.2M75.0 577.4h1.2M72.8 573.2h1.2M75.6 567.2h1.2M74.8 580.1h1.2M80.8 557.6h1.2M73.1 562.3h1.2M81.7 569.9h1.2M74.3 566.8h1.2M73.3 568.9h1.2M70.6 570.7h1.2M77.4 573.7h1.2M72.9 566.0h1.2M70.7 578.8h1.2M69.8 574.1h1.2M74.2 568.3h1.2M71.0 577.0h1.2M72.0 568.9h1.2M68.7 579.9h1.2M75.5 564.7h1.2M70.9 575.2h1.2M75.5 561.0h1.2M75.4 563.3h1.2M79.5 561.1h1.2M77.5 565.4h1.2M80.0 575.8h1.2M75.7 559.5h1.2M71.7 566.9h1.2M69.5 582.5h1.2M79.5 568.2h1.2M74.1 562.0h1.2M74.3 562.3h1.2M76.7 567.0h1.2M69.9 577.5h1.2M75.7 574.9h1.2M70.7 568.9h1.2M77.8 560.6h1.2M71.9 576.2h1.2M72.5 580.5h1.2M71.6 576.4h1.2M72.1 567.9h1.2M74.2 579.8h1.2M71.6 577.0h1.2M77.9 574.6h1.2M73.6 573.6h1.2M71.0 573.2h1.2M83.3 559.4h1.2M73.1 575.4h1.2M69.9 573.3h1.2M76.4 568.7h1.2M75.8 573.1h1.2M71.0 581.1h1.2M78.6 561.7h1.2M79.3 567.0h1.2M72.0 569.6h1.2M70.5 571.0h1.2M75.4 561.1h1.2M82.4 570.4h1.2M80.3 559.5h1.2M71.8 575.5h1.2M76.7 570.2h1.2M77.8 570.5h1.2M74.6 567.6h1.2M70.6 574.7h1.2M71.3 567.1h1.2M69.6 582.5h1.2M75.7 566.1h1.2M72.6 567.3h1.2M79.7 557.2h1.2M71.7 575.1h1.2M71.6 566.1h1.2M72.2 576.2h1.2M70.6 581.3h1.2M69.5 577.7h1.2M63.1 552.7h1.2M71.4 555.7h1.2M69.5 545.5h1.2M68.3 551.6h1.2M74.3 554.8h1.2M69.3 553.3h1.2M71.6 545.3h1.2M64.5 551.6h1.2M62.3 550.3h1.2M66.2 545.0h1.2M65.2 544.6h1.2M63.7 552.9h1.2M62.8 552.2h1.2M70.5 556.4h1.2M63.3 554.2h1.2M66.9 553.9h1.2M69.3 552.2h1.2M65.9 548.4h1.2M72.0 543.0h1.2M72.2 556.2h1.2M71.2 543.5h1.2M72.3 555.6h1.2M61.2 548.8h1.2M74.2 556.4h1.2M64.4 548.4h1.2M61.4 555.9h1.2M71.4 554.7h1.2M62.1 553.3h1.2M71.3 543.5h1.2M73.2 555.4h1.2M67.4 527.2h1.2M71.3 510.2h1.2M61.9 547.3h1.2M66.2 519.5h1.2M66.7 530.1h1.2M62.3 549.5h1.2M66.8 534.8h1.2M63.2 533.2h1.2M62.3 553.3h1.2M64.7 529.7h1.2M60.8 539.4h1.2M60.1 551.7h1.2M59.5 552.9h1.2M68.5 507.8h1.2M63.3 532.5h1.2M60.7 552.8h1.2M65.3 541.2h1.2M63.5 534.4h1.2M61.7 546.8h1.2M67.4 530.2h1.2M69.0 514.3h1.2M59.7 544.2h1.2M68.4 524.6h1.2M63.0 542.2h1.2M68.3 525.7h1.2M70.5 520.6h1.2M62.1 552.4h1.2M64.8 547.6h1.2M68.0 524.4h1.2M65.7 527.0h1.2" stroke="#111" stroke-width="1.2" fill="none"/>
<polygon points="59.0,593.0 57.5,580.0 58.5,565.0 60.5,560.8 63.0,561.3 66.0,567.0 67.5,571.5 71.0,567.6 72.9,566.6 71.5,573.0 69.0,582.0 66.0,592.0 62.5,594.0" fill="#6a6a6a" stroke="#c8c8c8" stroke-width=".9" stroke-linejoin="round"/>
<rect x="148.5" y="495.0" width="99.0" height="99.60000000000002" fill="none" stroke="#5a5a5a" stroke-width=".9"/>
<path d="M148.5 587.1h1.8M156.0 594.6v-1.8M148.5 582.7h1.8M160.3 594.6v-1.8M148.5 579.6h1.8M163.4 594.6v-1.8M148.5 577.2h1.8M165.8 594.6v-1.8M148.5 575.2h1.8M167.8 594.6v-1.8M148.5 573.6h1.8M169.4 594.6v-1.8M148.5 572.1h1.8M170.9 594.6v-1.8M148.5 570.8h1.8M172.1 594.6v-1.8M148.5 562.2h1.8M180.7 594.6v-1.8M148.5 557.8h1.8M185.1 594.6v-1.8M148.5 554.7h1.8M188.2 594.6v-1.8M148.5 552.3h1.8M190.5 594.6v-1.8M148.5 550.3h1.8M192.5 594.6v-1.8M148.5 548.7h1.8M194.2 594.6v-1.8M148.5 547.2h1.8M195.6 594.6v-1.8M148.5 545.9h1.8M196.9 594.6v-1.8M148.5 537.3h1.8M205.5 594.6v-1.8M148.5 532.9h1.8M209.8 594.6v-1.8M148.5 529.8h1.8M212.9 594.6v-1.8M148.5 527.4h1.8M215.3 594.6v-1.8M148.5 525.4h1.8M217.3 594.6v-1.8M148.5 523.8h1.8M218.9 594.6v-1.8M148.5 522.3h1.8M220.4 594.6v-1.8M148.5 521.0h1.8M221.6 594.6v-1.8M148.5 512.4h1.8M230.2 594.6v-1.8M148.5 508.0h1.8M234.6 594.6v-1.8M148.5 504.9h1.8M237.7 594.6v-1.8M148.5 502.5h1.8M240.0 594.6v-1.8M148.5 500.5h1.8M242.0 594.6v-1.8M148.5 498.9h1.8M243.7 594.6v-1.8M148.5 497.4h1.8M245.1 594.6v-1.8M148.5 496.1h1.8M246.4 594.6v-1.8" stroke="#666" stroke-width=".6" fill="none"/>
<line x1="175.7" y1="495.0" x2="175.7" y2="594.6" stroke="#222" stroke-width="1.1"/>
<line x1="148.5" y1="555.4" x2="247.5" y2="555.4" stroke="#222" stroke-width="1.1"/>
<ellipse cx="204.9" cy="531.6" rx="28.1" ry="22.1" fill="none" stroke="#111" stroke-width="1.6"/>
<text font-size="8.6" textLength="26.3" lengthAdjust="spacingAndGlyphs" x="217" y="507">1.34%</text>
<polygon points="157.5,594.2 156.0,580.0 156.6,567.6 158.5,559.1 161.0,556.4 167.5,555.8 174.5,555.8 176.5,558.6 175.5,570.0 172.8,580.0 168.8,592.0 165.5,594.4" fill="#858585"/>
<path d="M173.1 578.5h1.2M172.9 563.1h1.2M172.7 572.9h1.2M174.2 558.7h1.2M164.9 556.1h1.2M171.0 564.9h1.2M162.6 559.4h1.2M168.6 558.7h1.2M172.3 563.1h1.2M173.5 564.3h1.2M173.7 562.1h1.2M173.7 558.0h1.2M166.1 593.2h1.2M175.1 557.8h1.2M169.8 557.0h1.2M171.1 566.3h1.2M171.6 566.9h1.2M168.9 590.1h1.2M174.9 565.9h1.2M171.2 565.6h1.2M167.5 558.0h1.2M171.7 581.7h1.2M169.4 562.9h1.2M174.7 573.0h1.2M174.4 563.9h1.2M165.0 562.3h1.2M164.4 556.4h1.2M174.6 560.8h1.2M171.1 565.1h1.2M174.5 571.6h1.2M166.1 556.1h1.2M165.2 561.8h1.2M163.3 556.6h1.2M169.2 561.0h1.2M165.5 556.1h1.2M162.9 560.4h1.2M172.8 566.6h1.2M166.1 559.6h1.2M169.7 561.3h1.2M165.8 560.3h1.2M173.5 562.4h1.2M169.2 568.2h1.2M172.1 560.3h1.2M165.5 556.9h1.2M173.4 576.7h1.2M175.4 568.0h1.2M172.7 563.0h1.2M169.6 566.0h1.2M166.1 562.7h1.2M173.6 566.3h1.2M174.9 568.2h1.2M171.1 560.1h1.2M173.4 562.5h1.2M163.3 558.1h1.2M166.4 562.8h1.2M171.8 582.9h1.2M165.2 557.2h1.2M173.7 570.9h1.2M173.5 556.8h1.2M175.0 568.0h1.2M167.9 561.1h1.2M164.9 558.7h1.2M162.5 558.5h1.2M173.2 562.4h1.2M173.2 558.7h1.2M162.7 559.5h1.2M166.5 559.5h1.2M168.5 560.1h1.2M173.9 561.2h1.2M171.3 586.5h1.2M162.5 593.6h1.2M162.1 556.9h1.2M166.4 555.8h1.2M169.8 587.8h1.2M176.2 556.2h1.2M163.5 554.2h1.2M164.1 593.6h1.2M172.6 582.3h1.2M157.5 559.7h1.2M156.7 570.1h1.2M157.6 559.4h1.2M165.1 557.8h1.2M159.3 593.6h1.2M170.2 585.1h1.2M165.9 593.6h1.2M171.6 585.5h1.2M170.5 587.8h1.2M156.7 588.3h1.2M173.8 556.2h1.2M161.7 593.6h1.2M161.7 593.6h1.2M155.9 568.4h1.2M165.5 556.3h1.2M175.7 567.1h1.2M160.2 557.9h1.2M174.2 557.1h1.2M155.7 586.2h1.2M166.4 556.0h1.2M173.8 555.1h1.2M157.1 591.4h1.2M156.3 580.5h1.2M161.9 593.6h1.2M171.6 581.4h1.2M163.3 593.6h1.2M177.2 568.0h1.2M169.5 584.0h1.2M167.7 592.5h1.2M168.6 592.4h1.2M158.5 590.1h1.2M175.0 569.8h1.2M157.0 566.5h1.2M173.4 570.9h1.2M155.1 566.3h1.2M176.3 559.0h1.2M165.2 593.6h1.2M175.3 567.7h1.2M155.2 568.7h1.2M175.0 556.9h1.2M166.1 556.3h1.2M163.2 593.6h1.2M156.9 564.7h1.2M156.9 562.9h1.2M175.4 569.1h1.2M157.2 582.9h1.2M175.7 563.9h1.2M162.2 593.6h1.2M174.6 556.1h1.2M156.4 566.2h1.2M170.4 556.8h1.2M176.2 557.9h1.2M156.2 578.7h1.2M154.8 582.1h1.2M156.2 580.4h1.2M156.6 565.2h1.2M162.3 557.5h1.2M157.7 566.6h1.2M156.0 569.3h1.2M156.2 585.4h1.2M176.3 558.0h1.2M171.0 587.3h1.2M175.5 565.5h1.2M175.9 560.7h1.2M175.8 568.9h1.2M155.4 573.6h1.2M173.9 576.5h1.2M168.3 556.5h1.2M175.9 558.5h1.2M175.7 565.6h1.2M170.6 557.1h1.2M157.2 563.6h1.2M157.3 570.0h1.2M155.8 572.2h1.2M174.4 556.1h1.2M161.0 556.9h1.2M177.0 563.5h1.2M157.2 593.6h1.2M160.1 557.8h1.2M170.6 589.0h1.2M156.9 570.3h1.2M177.5 559.9h1.2M171.9 555.2h1.2M156.2 565.7h1.2M158.6 593.6h1.2M157.8 563.5h1.2M172.0 580.9h1.2M157.3 579.1h1.2M156.7 586.2h1.2M169.4 591.0h1.2M167.3 556.3h1.2M156.6 588.6h1.2M162.3 556.5h1.2M166.7 555.5h1.2M173.9 576.8h1.2M156.2 582.5h1.2M155.4 571.6h1.2M161.7 593.6h1.2M174.0 576.9h1.2M156.0 578.6h1.2M158.9 559.1h1.2M159.5 558.7h1.2M176.1 572.6h1.2M176.3 567.4h1.2M169.8 588.5h1.2M170.5 585.4h1.2M174.8 554.8h1.2M173.3 578.3h1.2M174.0 578.2h1.2M173.8 579.6h1.2M170.5 554.4h1.2M171.4 581.9h1.2M175.2 575.4h1.2M165.3 593.6h1.2M156.5 581.0h1.2M169.2 590.7h1.2M157.1 592.5h1.2M172.5 581.6h1.2M177.2 562.4h1.2M172.4 555.6h1.2M162.0 593.6h1.2M175.8 561.5h1.2M164.6 556.4h1.2M171.7 581.3h1.2M169.1 591.6h1.2M175.1 564.7h1.2M161.5 556.2h1.2M167.8 557.3h1.2M169.5 556.6h1.2M173.1 577.6h1.2M156.1 563.9h1.2M162.5 557.3h1.2M175.7 559.0h1.2M161.5 555.0h1.2M158.4 561.8h1.2M171.6 583.1h1.2M170.4 589.0h1.2M173.5 556.9h1.2M167.1 555.9h1.2M155.8 576.1h1.2M157.3 563.6h1.2M156.1 579.5h1.2M177.5 561.5h1.2M177.2 562.8h1.2M157.5 585.1h1.2M166.3 593.6h1.2M157.6 561.4h1.2M170.0 588.2h1.2M171.2 587.2h1.2M160.5 593.0h1.2M156.0 572.9h1.2M165.7 556.4h1.2M167.7 593.6h1.2M157.7 592.6h1.2M157.4 590.3h1.2M177.3 559.1h1.2M173.6 556.9h1.2M166.2 593.2h1.2M172.1 581.8h1.2M176.3 557.4h1.2M157.0 593.6h1.2M173.8 557.2h1.2M174.8 556.4h1.2M173.8 572.3h1.2M162.4 555.3h1.2M160.9 557.1h1.2M175.2 563.6h1.2M159.3 559.2h1.2M162.6 593.6h1.2M174.8 571.4h1.2M173.4 557.5h1.2M156.6 584.2h1.2M160.1 557.1h1.2M163.0 556.2h1.2M177.2 558.9h1.2M176.4 560.7h1.2M168.6 592.8h1.2M160.4 593.6h1.2M171.4 556.5h1.2M166.3 554.6h1.2M176.2 566.3h1.2M180.0 564.6h1.2M174.9 566.0h1.2M178.1 562.0h1.2M174.1 568.9h1.2M174.4 582.2h1.2M172.5 582.2h1.2M173.4 581.9h1.2M182.7 558.5h1.2M173.5 574.5h1.2M173.8 571.7h1.2M173.8 581.7h1.2M173.6 564.7h1.2M173.3 565.8h1.2M174.1 561.8h1.2M172.4 574.5h1.2M171.3 574.1h1.2M177.4 566.6h1.2M173.9 570.7h1.2M173.1 571.6h1.2M175.1 561.6h1.2M171.2 580.0h1.2M170.2 579.3h1.2M179.2 563.5h1.2M177.1 563.4h1.2M175.1 569.6h1.2M172.3 571.8h1.2M182.7 559.8h1.2M174.4 559.0h1.2M177.4 567.5h1.2M171.4 579.4h1.2M173.1 571.2h1.2M184.9 559.9h1.2M169.3 582.7h1.2M171.6 578.5h1.2M179.0 567.1h1.2M182.3 571.5h1.2M174.7 577.0h1.2M183.2 558.4h1.2M173.6 563.1h1.2M171.6 572.4h1.2M176.1 562.4h1.2M180.2 568.0h1.2M174.7 580.0h1.2M178.1 571.5h1.2M170.8 580.8h1.2M172.1 576.3h1.2M173.1 565.8h1.2M175.6 578.4h1.2M181.3 560.1h1.2M173.0 581.5h1.2M176.0 575.7h1.2M176.1 559.5h1.2M172.1 571.2h1.2M170.9 581.0h1.2M170.7 574.5h1.2M175.4 568.5h1.2M171.4 578.7h1.2M175.7 557.4h1.2M174.9 559.8h1.2M174.3 571.3h1.2M174.9 564.4h1.2M179.5 560.7h1.2M174.9 579.7h1.2M171.4 577.9h1.2M172.2 581.6h1.2M173.8 560.8h1.2M178.1 569.9h1.2M183.3 557.8h1.2M177.3 561.6h1.2M179.9 567.1h1.2M177.3 569.3h1.2M181.3 567.1h1.2M170.7 579.6h1.2M173.9 565.5h1.2M179.8 562.5h1.2M179.8 558.0h1.2M178.0 561.3h1.2M175.3 571.9h1.2M172.4 567.0h1.2M171.5 572.0h1.2M178.9 565.6h1.2M169.5 582.5h1.2M180.4 558.1h1.2M180.1 564.0h1.2M177.5 564.0h1.2M171.2 571.7h1.2M186.7 570.6h1.2M179.9 557.8h1.2M172.5 571.5h1.2M178.2 577.0h1.2M173.8 573.4h1.2M177.0 564.2h1.2M176.5 577.6h1.2M178.1 574.6h1.2M173.3 564.8h1.2M180.0 570.1h1.2M174.3 573.4h1.2M177.8 567.5h1.2M177.0 558.5h1.2M171.4 582.6h1.2M174.3 569.4h1.2M176.4 563.0h1.2M172.7 566.0h1.2M170.0 579.5h1.2M178.4 568.7h1.2M175.2 564.8h1.2M178.4 561.3h1.2M174.6 564.9h1.2M179.8 575.8h1.2M176.7 565.8h1.2M170.6 580.9h1.2M174.5 561.5h1.2M175.7 572.0h1.2M170.4 577.0h1.2M173.3 568.0h1.2M173.0 569.5h1.2M169.9 580.3h1.2M179.5 557.5h1.2M174.4 561.2h1.2M183.0 562.6h1.2M174.4 567.3h1.2M174.4 579.4h1.2M173.2 573.8h1.2M174.0 581.9h1.2M178.7 572.5h1.2M172.7 579.7h1.2M174.8 565.8h1.2M173.8 570.9h1.2M174.8 579.7h1.2M184.3 562.4h1.2M172.4 565.4h1.2M180.2 567.4h1.2M171.4 574.6h1.2M173.6 567.7h1.2M178.4 558.1h1.2M174.9 569.8h1.2M171.2 572.4h1.2M182.2 557.3h1.2M178.5 581.0h1.2M182.1 558.4h1.2M171.6 572.9h1.2M179.8 559.3h1.2M180.5 561.0h1.2M183.0 559.2h1.2M174.2 578.1h1.2M173.9 572.2h1.2M175.0 571.3h1.2M179.2 565.5h1.2M170.6 576.2h1.2M176.6 576.7h1.2M172.6 577.1h1.2M174.1 582.3h1.2M172.9 568.7h1.2M173.2 581.4h1.2M181.2 560.3h1.2M171.0 573.9h1.2M178.0 577.0h1.2M187.7 562.8h1.2M171.0 576.6h1.2M174.2 560.4h1.2M182.9 558.5h1.2M173.2 561.6h1.2M170.5 581.3h1.2M176.0 561.5h1.2M172.5 576.1h1.2M175.9 557.7h1.2M170.6 577.1h1.2M186.4 569.9h1.2M175.5 573.4h1.2M179.8 568.9h1.2M174.8 565.3h1.2M171.5 576.0h1.2M178.1 558.6h1.2M172.6 579.4h1.2M180.5 558.5h1.2M170.8 580.8h1.2M170.9 581.5h1.2M176.0 563.5h1.2M176.9 563.7h1.2M174.9 562.2h1.2M172.4 576.6h1.2M171.0 582.8h1.2M176.4 562.5h1.2M170.6 579.3h1.2M170.3 579.5h1.2M176.2 578.3h1.2M176.1 564.2h1.2M173.1 580.1h1.2M176.9 561.1h1.2M178.5 568.7h1.2M173.6 572.0h1.2M171.2 579.9h1.2M174.4 566.3h1.2M186.2 561.6h1.2M172.7 579.4h1.2M174.1 557.5h1.2M174.4 559.8h1.2M169.5 580.6h1.2M173.5 560.8h1.2M176.2 561.3h1.2M174.0 574.7h1.2M171.1 580.8h1.2M179.2 575.5h1.2M187.7 557.8h1.2M175.4 563.0h1.2M184.6 557.9h1.2M172.1 570.0h1.2M180.9 559.6h1.2M180.4 557.4h1.2M169.8 579.7h1.2M177.1 560.0h1.2M172.1 568.0h1.2M174.6 561.6h1.2M172.5 576.1h1.2M175.2 569.9h1.2M174.7 569.8h1.2M170.8 580.8h1.2M170.9 582.1h1.2M169.9 579.9h1.2M178.4 561.5h1.2M174.4 563.8h1.2M172.1 570.1h1.2M177.0 567.5h1.2M176.4 557.2h1.2M173.7 574.8h1.2M176.4 571.2h1.2M179.4 574.8h1.2M171.4 575.6h1.2M174.5 567.3h1.2M172.1 582.2h1.2M176.5 567.0h1.2M177.9 560.6h1.2M173.1 582.9h1.2M169.5 581.0h1.2M177.5 563.5h1.2M176.8 563.2h1.2M182.5 562.1h1.2M175.2 577.3h1.2M174.5 580.5h1.2M175.2 565.3h1.2M169.3 548.6h1.2M175.3 553.7h1.2M171.9 556.4h1.2M169.1 544.6h1.2M175.2 549.6h1.2M170.1 554.7h1.2M167.3 546.8h1.2M167.4 547.4h1.2M170.0 550.7h1.2M166.4 548.0h1.2M169.2 548.9h1.2M169.9 554.8h1.2M174.4 554.4h1.2M171.5 551.5h1.2M168.1 550.7h1.2M162.6 554.8h1.2M169.4 543.0h1.2M168.8 550.7h1.2M165.8 545.4h1.2M173.1 555.3h1.2M170.4 551.7h1.2M173.5 545.1h1.2M163.7 544.3h1.2M173.2 552.9h1.2M164.4 545.3h1.2M164.2 555.5h1.2M165.8 555.9h1.2M169.1 545.6h1.2M162.5 551.8h1.2M175.6 552.7h1.2M168.0 547.7h1.2M172.6 551.4h1.2M164.5 546.5h1.2M167.0 548.0h1.2M164.8 550.8h1.2M165.9 553.0h1.2M161.2 552.9h1.2M169.2 555.0h1.2M162.9 556.2h1.2M165.9 547.3h1.2M164.4 553.6h1.2M164.1 545.0h1.2M173.3 548.8h1.2M166.9 555.0h1.2M170.3 545.8h1.2M161.6 553.0h1.2M166.4 552.0h1.2M166.1 547.4h1.2M170.5 552.5h1.2M167.1 545.4h1.2M169.4 552.8h1.2M165.7 543.1h1.2M171.4 542.0h1.2M170.7 553.0h1.2M161.8 553.6h1.2M167.3 546.5h1.2M168.4 550.7h1.2M171.9 543.6h1.2M169.5 556.3h1.2M167.8 551.7h1.2M167.9 544.9h1.2M173.9 551.5h1.2M168.2 552.0h1.2M173.0 550.9h1.2M171.8 548.2h1.2M161.6 552.6h1.2M169.4 548.0h1.2M172.1 546.3h1.2M163.6 555.8h1.2M173.1 556.1h1.2M161.5 555.9h1.2M169.6 546.6h1.2M170.9 556.2h1.2M168.5 547.4h1.2M171.1 556.2h1.2M169.5 552.3h1.2M172.5 541.4h1.2M164.9 544.2h1.2M168.5 553.5h1.2M175.8 556.4h1.2M164.6 554.2h1.2M164.5 553.8h1.2M169.6 544.5h1.2M167.3 550.9h1.2M164.9 556.2h1.2M172.4 544.3h1.2M166.1 544.5h1.2M161.2 555.0h1.2M166.7 550.5h1.2M168.2 551.7h1.2M166.7 549.7h1.2M165.3 545.6h1.2M169.7 543.2h1.2M165.1 556.2h1.2M167.2 550.6h1.2M166.1 550.0h1.2M172.7 554.3h1.2M171.4 554.0h1.2M170.0 545.6h1.2M174.6 551.8h1.2M173.8 551.9h1.2M167.0 556.2h1.2M162.7 548.7h1.2M164.0 544.4h1.2M164.3 549.5h1.2M169.7 543.1h1.2M168.8 545.7h1.2M170.9 548.1h1.2M163.8 554.0h1.2M164.8 544.9h1.2M165.8 543.2h1.2M161.6 555.9h1.2M174.3 546.0h1.2M170.6 552.4h1.2M174.4 554.4h1.2M164.3 547.9h1.2M171.1 556.2h1.2M173.4 556.3h1.2M164.2 554.0h1.2M166.1 549.7h1.2M163.8 550.1h1.2M167.1 543.3h1.2M164.9 544.8h1.2M174.6 545.7h1.2M161.5 552.7h1.2M170.3 552.9h1.2M168.8 554.8h1.2M167.5 556.0h1.2M167.9 547.1h1.2M163.7 548.0h1.2M164.5 545.1h1.2M174.5 543.1h1.2M169.4 542.7h1.2M165.9 554.0h1.2M168.7 546.7h1.2M164.6 543.0h1.2M173.5 551.3h1.2M169.1 549.5h1.2M162.3 556.0h1.2M174.1 554.3h1.2M165.8 544.7h1.2M163.9 543.1h1.2M174.8 549.4h1.2M174.9 553.4h1.2M162.8 548.4h1.2M167.5 553.5h1.2M171.9 554.6h1.2M172.6 555.3h1.2M161.7 554.0h1.2M163.0 550.1h1.2M172.4 550.3h1.2M168.0 549.5h1.2M168.2 556.3h1.2M170.4 555.9h1.2M169.3 555.7h1.2M166.4 553.3h1.2M164.3 548.3h1.2M175.0 555.4h1.2M173.3 553.5h1.2M168.8 544.2h1.2M161.7 555.5h1.2M164.6 544.0h1.2M168.9 551.2h1.2M167.5 555.8h1.2M168.6 555.4h1.2M166.6 551.0h1.2M166.6 555.1h1.2M162.3 555.0h1.2M173.8 554.6h1.2M173.9 551.1h1.2M175.1 556.4h1.2M172.5 551.3h1.2M171.1 549.9h1.2M172.0 554.8h1.2M164.4 555.5h1.2M166.3 556.3h1.2M165.6 550.8h1.2M164.3 543.8h1.2M164.9 549.8h1.2M172.4 549.5h1.2M163.2 547.4h1.2M169.7 554.6h1.2M164.3 541.8h1.2M171.1 549.1h1.2M167.0 545.4h1.2M168.4 545.5h1.2M163.7 543.1h1.2M168.1 542.7h1.2M162.3 552.5h1.2M171.7 554.6h1.2M164.2 548.0h1.2M162.9 553.4h1.2M163.8 555.1h1.2M175.3 553.5h1.2M172.2 541.5h1.2M168.4 551.4h1.2M173.8 546.1h1.2M170.5 546.6h1.2M170.0 555.1h1.2M172.3 544.7h1.2M160.9 551.1h1.2M169.9 548.7h1.2M173.5 519.3h1.2M177.7 507.4h1.2M166.5 515.9h1.2M170.0 514.5h1.2M170.1 543.0h1.2M165.4 545.1h1.2M160.9 547.3h1.2M171.5 533.5h1.2M162.2 521.3h1.2M162.9 516.4h1.2M169.9 514.4h1.2M170.1 524.7h1.2M169.9 527.9h1.2M162.2 553.4h1.2M163.5 550.5h1.2M164.7 527.4h1.2M156.4 546.7h1.2M167.9 526.6h1.2M161.6 544.2h1.2M169.6 524.2h1.2M168.6 544.2h1.2M167.6 546.2h1.2M167.4 510.2h1.2M160.4 506.3h1.2M164.6 547.6h1.2M170.7 531.6h1.2M165.0 506.9h1.2M163.0 545.1h1.2M169.9 530.3h1.2M172.8 539.3h1.2M174.0 523.9h1.2M170.5 536.0h1.2M165.4 524.2h1.2M159.8 531.9h1.2M155.7 533.2h1.2M164.1 552.2h1.2M160.4 530.0h1.2M168.7 510.4h1.2M161.1 552.8h1.2M175.0 506.4h1.2M167.3 528.4h1.2M163.5 538.6h1.2M163.9 543.8h1.2M154.9 530.7h1.2M169.0 524.9h1.2M172.3 539.2h1.2M168.5 522.5h1.2M169.1 529.0h1.2M167.5 540.8h1.2M173.7 511.2h1.2M163.0 548.4h1.2M153.4 543.1h1.2M173.8 505.8h1.2M173.3 507.0h1.2M168.6 536.3h1.2M154.5 538.5h1.2M163.7 544.4h1.2M167.9 535.7h1.2M169.3 517.3h1.2M165.0 518.6h1.2M168.3 523.7h1.2M169.6 540.0h1.2M161.8 543.5h1.2M168.6 540.5h1.2M168.8 545.4h1.2M167.1 518.8h1.2M173.5 515.5h1.2M175.0 525.1h1.2M168.8 522.4h1.2M171.6 507.2h1.2M166.1 538.6h1.2M166.3 547.8h1.2M159.6 532.0h1.2M162.4 549.7h1.2M158.0 537.6h1.2M164.9 523.8h1.2M163.5 529.1h1.2M171.8 516.7h1.2M167.7 523.6h1.2M176.9 509.9h1.2M170.5 524.9h1.2M165.9 521.7h1.2M169.5 544.1h1.2M170.1 514.5h1.2M168.5 546.3h1.2M173.7 505.0h1.2M176.1 522.0h1.2M171.8 541.8h1.2M163.0 549.6h1.2M158.3 535.9h1.2M163.3 552.6h1.2M160.6 546.2h1.2M162.3 541.5h1.2M170.0 516.4h1.2M170.5 515.5h1.2M176.0 517.3h1.2M171.4 537.0h1.2M165.7 520.5h1.2M164.4 532.5h1.2M180.4 511.8h1.2M167.3 541.6h1.2M169.0 534.3h1.2M166.6 523.0h1.2M165.6 541.0h1.2M164.7 543.7h1.2M164.7 532.2h1.2M169.9 521.7h1.2M159.8 529.9h1.2M172.7 520.8h1.2M165.3 553.2h1.2M167.1 526.0h1.2M150.4 548.6h1.2M167.8 542.7h1.2M170.3 540.4h1.2M168.2 535.4h1.2M162.7 549.0h1.2M172.7 514.7h1.2M165.4 529.7h1.2M173.9 545.1h1.2M162.3 520.0h1.2M172.4 513.5h1.2M159.9 546.7h1.2M163.7 553.3h1.2M175.0 535.0h1.2M170.8 531.3h1.2M171.5 526.3h1.2M168.9 525.4h1.2M171.0 509.4h1.2M169.9 528.2h1.2M160.3 535.4h1.2M168.5 521.5h1.2M174.5 520.5h1.2M160.5 538.2h1.2M158.4 545.6h1.2M170.0 534.6h1.2M171.3 527.7h1.2M172.9 504.3h1.2M171.7 516.7h1.2M172.5 519.5h1.2M174.0 504.9h1.2M159.3 552.4h1.2M155.8 546.4h1.2M171.7 525.5h1.2M171.0 549.0h1.2M169.9 550.8h1.2M164.1 547.7h1.2M171.8 532.5h1.2M173.1 510.4h1.2M163.4 512.8h1.2M161.6 533.0h1.2M172.6 516.0h1.2M165.2 530.7h1.2M162.6 553.3h1.2M171.8 514.2h1.2M160.9 550.1h1.2M172.6 536.8h1.2M166.4 530.6h1.2M172.5 520.2h1.2M159.8 550.8h1.2M172.5 518.3h1.2M174.0 504.8h1.2M166.5 551.7h1.2M202.1 528.0h1.2M198.4 528.8h1.2M178.0 531.6h1.2M191.6 537.7h1.2M194.7 541.8h1.2M190.3 533.0h1.2M182.2 540.0h1.2M194.3 527.7h1.2M210.2 530.1h1.2M191.7 528.3h1.2M189.4 533.4h1.2M212.1 530.0h1.2M197.9 532.0h1.2M179.8 529.1h1.2M191.2 533.7h1.2M182.9 530.1h1.2M210.8 528.6h1.2M180.7 541.0h1.2M218.5 537.9h1.2M211.1 539.9h1.2M183.1 530.0h1.2M206.5 532.1h1.2M201.0 534.5h1.2M192.4 538.2h1.2M193.2 537.5h1.2M189.1 537.0h1.2M213.0 522.3h1.2M208.1 535.9h1.2M213.8 530.1h1.2M191.1 532.8h1.2M188.9 538.2h1.2M186.4 535.7h1.2M182.8 540.4h1.2M198.2 534.0h1.2M198.2 531.9h1.2M203.2 531.3h1.2M202.4 524.8h1.2M196.7 527.2h1.2M180.5 537.8h1.2M205.3 531.7h1.2M186.5 537.5h1.2M196.7 532.4h1.2M202.5 532.9h1.2M198.7 530.9h1.2M218.0 537.2h1.2M184.9 539.0h1.2M190.2 535.3h1.2M178.9 531.9h1.2M188.7 530.8h1.2M185.6 533.0h1.2M222.0 539.2h1.2M190.3 529.4h1.2M186.1 525.9h1.2M190.0 534.6h1.2M186.1 534.6h1.2M189.9 538.3h1.2M197.8 531.7h1.2M197.8 534.4h1.2M215.5 541.3h1.2M179.9 533.9h1.2M193.7 533.1h1.2M199.8 542.8h1.2M183.2 535.6h1.2M183.4 533.5h1.2M201.1 536.1h1.2M179.8 534.6h1.2M214.1 538.1h1.2M211.4 544.4h1.2M200.9 534.3h1.2M193.9 531.3h1.2M180.9 535.5h1.2M186.3 539.4h1.2M188.1 531.5h1.2M210.5 540.6h1.2M195.4 537.1h1.2M187.3 526.2h1.2M183.9 537.2h1.2M185.4 529.4h1.2M190.9 534.8h1.2M200.1 534.7h1.2M186.9 533.9h1.2M210.2 528.9h1.2M220.8 536.2h1.2M201.6 532.1h1.2M209.5 532.0h1.2M201.3 534.9h1.2M209.6 534.2h1.2M198.3 528.2h1.2M180.1 537.8h1.2M184.6 530.0h1.2M187.5 518.3h1.2M186.8 536.2h1.2M216.5 538.2h1.2M192.7 524.4h1.2M193.7 530.5h1.2M180.8 537.0h1.2M214.8 526.8h1.2M185.7 539.8h1.2M183.0 540.8h1.2M208.7 542.7h1.2M213.7 537.4h1.2M180.2 535.7h1.2M184.5 525.9h1.2M203.1 538.8h1.2M219.1 536.8h1.2M206.0 528.3h1.2M187.0 534.4h1.2M193.8 532.7h1.2M178.9 530.9h1.2M215.5 536.6h1.2M198.0 533.1h1.2M193.7 530.2h1.2M220.7 538.4h1.2M220.8 544.0h1.2M180.0 530.0h1.2M188.1 531.0h1.2M185.2 533.0h1.2M183.5 539.2h1.2M201.1 539.5h1.2M180.2 523.5h1.2M179.3 526.2h1.2M187.3 535.0h1.2M197.7 535.0h1.2M197.5 537.6h1.2M195.8 540.4h1.2M195.3 536.9h1.2M222.1 533.3h1.2M205.1 529.0h1.2M185.9 535.9h1.2M184.9 532.3h1.2M207.1 541.6h1.2M190.2 540.4h1.2M194.0 530.9h1.2M208.8 538.0h1.2M199.2 534.8h1.2M183.9 530.5h1.2M199.1 533.7h1.2M177.9 526.3h1.2M182.7 537.8h1.2M201.1 532.6h1.2M194.0 533.3h1.2M219.1 532.2h1.2M211.2 530.1h1.2M183.7 530.5h1.2M210.4 533.6h1.2M210.2 533.3h1.2M196.6 545.5h1.2M196.4 530.3h1.2M198.9 531.8h1.2M208.4 529.6h1.2M179.1 538.6h1.2M210.8 530.1h1.2M190.7 525.8h1.2M184.9 536.1h1.2M206.1 532.8h1.2M191.7 538.1h1.2M190.4 547.4h1.2M211.9 538.7h1.2M192.6 539.7h1.2M179.1 524.6h1.2M217.7 536.2h1.2M208.7 535.9h1.2M203.8 535.6h1.2M192.7 544.1h1.2M199.7 541.3h1.2M212.6 529.1h1.2M206.5 531.1h1.2M183.4 534.9h1.2M185.6 538.7h1.2M189.8 542.2h1.2M202.0 532.1h1.2M193.7 540.3h1.2M193.5 530.0h1.2M178.6 530.5h1.2M180.8 547.1h1.2M206.4 526.7h1.2M219.6 539.4h1.2M189.4 529.5h1.2M211.8 536.2h1.2M181.7 532.9h1.2M213.2 529.3h1.2M191.9 531.9h1.2M195.1 532.6h1.2M182.9 532.9h1.2M193.9 528.5h1.2M199.1 534.2h1.2M193.9 535.3h1.2M187.1 534.1h1.2M201.1 528.6h1.2M217.6 543.7h1.2M199.1 529.0h1.2M179.9 532.9h1.2M185.6 542.3h1.2M209.7 539.6h1.2M195.8 531.4h1.2M198.4 528.6h1.2M185.5 530.2h1.2M193.0 544.6h1.2M198.3 536.8h1.2M178.6 536.0h1.2M198.3 538.8h1.2M202.4 532.8h1.2M199.2 545.3h1.2M183.9 521.3h1.2M196.0 530.4h1.2M202.5 532.2h1.2M206.4 527.7h1.2M204.4 533.5h1.2M184.5 529.4h1.2M194.6 533.0h1.2M200.8 533.8h1.2M181.5 525.0h1.2M198.1 537.9h1.2M178.8 534.9h1.2M200.0 533.1h1.2M192.1 527.6h1.2M205.9 542.3h1.2M200.2 528.9h1.2M194.7 533.4h1.2M220.4 534.9h1.2M198.9 532.6h1.2M219.5 537.1h1.2M219.7 529.7h1.2M206.8 528.3h1.2M191.3 542.0h1.2M212.3 535.9h1.2M190.3 526.5h1.2M179.7 538.9h1.2M211.7 528.3h1.2M188.6 535.7h1.2M184.6 535.4h1.2M189.1 530.7h1.2M182.6 529.8h1.2M192.3 528.2h1.2M203.1 530.8h1.2M185.9 528.6h1.2M183.3 527.5h1.2M183.3 533.3h1.2M199.7 536.3h1.2M202.6 538.8h1.2M207.4 527.0h1.2M216.7 531.9h1.2M209.4 536.9h1.2M200.1 527.0h1.2M197.9 532.6h1.2M211.4 533.6h1.2M189.1 532.3h1.2M187.5 534.9h1.2M180.4 543.5h1.2M201.2 522.5h1.2M217.8 539.5h1.2M213.7 530.9h1.2M196.6 537.4h1.2M214.6 532.7h1.2M201.9 529.5h1.2M189.6 537.7h1.2M182.3 528.1h1.2M184.4 536.6h1.2M212.8 528.9h1.2M189.3 533.8h1.2M214.2 531.2h1.2M198.9 543.1h1.2M213.9 528.7h1.2M192.4 536.5h1.2M200.6 528.0h1.2M178.8 535.3h1.2M190.6 534.2h1.2M203.5 540.1h1.2M214.3 533.6h1.2M223.7 531.7h1.2M190.8 533.3h1.2M187.3 537.5h1.2M211.1 539.8h1.2M201.1 538.4h1.2M191.1 534.4h1.2M198.5 524.1h1.2M191.7 530.0h1.2M215.6 532.1h1.2M225.8 527.5h1.2M201.8 526.5h1.2M204.4 529.9h1.2M186.5 530.7h1.2M184.9 535.4h1.2M211.0 538.3h1.2M192.1 535.2h1.2M184.6 546.3h1.2M204.8 533.9h1.2M185.0 529.2h1.2M219.7 537.6h1.2M217.6 531.7h1.2M183.8 532.3h1.2M197.2 533.6h1.2M196.0 530.1h1.2M207.4 535.6h1.2M182.8 534.7h1.2M179.7 531.4h1.2M197.9 532.2h1.2M186.3 539.8h1.2M186.5 532.3h1.2M200.3 528.8h1.2M207.2 538.6h1.2M201.1 550.1h1.2M196.7 532.9h1.2M206.4 531.5h1.2M196.1 533.0h1.2M192.6 526.1h1.2M210.1 534.2h1.2M194.3 541.6h1.2M188.6 527.2h1.2M208.4 540.3h1.2M190.2 535.6h1.2M216.9 535.6h1.2M177.0 535.3h1.2M205.6 534.0h1.2M191.9 535.3h1.2M199.7 531.8h1.2M201.3 531.9h1.2M206.5 527.3h1.2M193.5 529.5h1.2M194.4 540.2h1.2M200.8 526.9h1.2M199.2 527.3h1.2M184.1 539.4h1.2M195.4 545.3h1.2M211.3 531.8h1.2M192.6 538.8h1.2M210.9 536.0h1.2M178.1 533.2h1.2M223.0 533.5h1.2M181.5 540.1h1.2M187.3 531.2h1.2M219.3 532.5h1.2M201.3 531.1h1.2M200.2 541.6h1.2M197.5 538.9h1.2M199.5 534.5h1.2M203.6 541.8h1.2M179.4 536.3h1.2M202.3 522.9h1.2M216.0 527.4h1.2M191.0 534.2h1.2M187.3 532.9h1.2M185.3 530.7h1.2M190.5 540.7h1.2M179.3 540.1h1.2M197.3 538.4h1.2M186.3 537.0h1.2M187.5 528.0h1.2M219.4 532.7h1.2M214.4 531.5h1.2M189.4 534.6h1.2M202.6 535.6h1.2M188.4 531.3h1.2M200.5 536.7h1.2M198.9 534.5h1.2M185.9 537.6h1.2M190.5 533.2h1.2M182.7 537.0h1.2M186.3 531.4h1.2M208.3 535.5h1.2M189.6 542.8h1.2M209.2 527.3h1.2M205.1 543.2h1.2M210.4 535.2h1.2M221.5 534.8h1.2M183.1 538.0h1.2M201.7 520.1h1.2M195.7 538.1h1.2M206.6 528.2h1.2M180.5 533.4h1.2M188.2 531.8h1.2M179.1 532.8h1.2M188.2 533.5h1.2M189.6 534.8h1.2M196.0 537.3h1.2M199.5 541.9h1.2M203.9 538.5h1.2M199.7 546.1h1.2M191.9 535.0h1.2M185.1 525.4h1.2M197.9 539.3h1.2M220.5 520.6h1.2M179.3 531.7h1.2M201.4 536.7h1.2M181.3 537.0h1.2M199.5 533.5h1.2M215.4 527.2h1.2M188.7 528.6h1.2M189.2 533.0h1.2M181.5 530.7h1.2M219.8 531.8h1.2M191.6 527.3h1.2M213.5 533.3h1.2M191.6 536.8h1.2M188.6 524.8h1.2M204.6 532.2h1.2M205.9 534.6h1.2M204.3 532.8h1.2M187.3 529.6h1.2M199.8 529.8h1.2M197.6 535.1h1.2M186.8 531.3h1.2M200.1 535.9h1.2M206.1 532.7h1.2M191.2 532.6h1.2M194.3 529.1h1.2M198.8 538.3h1.2M211.1 527.9h1.2M224.2 527.8h1.2M180.1 535.7h1.2M180.5 539.6h1.2M215.9 542.3h1.2M188.7 530.5h1.2M210.9 533.9h1.2M202.0 529.7h1.2M202.5 528.4h1.2M201.6 523.3h1.2M196.7 534.5h1.2M203.7 538.2h1.2M192.5 520.4h1.2M198.2 523.1h1.2M200.2 529.2h1.2M218.8 529.2h1.2M202.5 536.1h1.2M186.7 526.9h1.2M218.7 536.0h1.2M214.7 535.7h1.2M182.3 530.0h1.2M185.2 534.8h1.2M193.9 531.5h1.2M211.6 540.1h1.2M182.7 530.3h1.2M185.0 530.8h1.2M211.2 538.5h1.2M181.0 532.4h1.2M189.7 534.4h1.2M201.1 530.1h1.2M196.9 531.4h1.2M188.2 528.6h1.2M188.3 536.5h1.2M184.4 529.9h1.2M182.2 532.6h1.2M177.2 532.8h1.2M196.0 536.9h1.2M184.5 538.7h1.2M183.9 528.4h1.2M208.6 533.8h1.2M181.6 528.6h1.2M184.5 532.5h1.2M182.8 535.4h1.2M186.1 535.3h1.2M182.2 538.1h1.2M196.8 533.8h1.2M189.6 539.3h1.2M201.1 526.6h1.2M179.2 527.9h1.2M179.4 537.2h1.2M201.1 539.6h1.2M182.3 525.8h1.2M181.0 538.2h1.2M207.5 536.8h1.2M209.0 530.6h1.2M219.5 532.2h1.2M195.8 528.9h1.2M211.6 525.6h1.2M212.0 539.4h1.2M198.9 542.3h1.2M196.7 535.7h1.2M212.0 528.0h1.2M212.9 526.8h1.2M183.5 533.1h1.2M191.0 528.3h1.2M196.7 539.0h1.2M186.6 528.1h1.2M209.1 531.6h1.2M206.0 524.6h1.2M207.2 543.3h1.2M191.9 538.5h1.2M220.3 532.5h1.2M185.0 535.4h1.2M211.2 539.5h1.2M188.0 535.4h1.2M185.4 527.7h1.2M206.3 534.7h1.2M181.5 533.6h1.2M188.9 533.7h1.2M188.5 545.0h1.2M201.9 532.4h1.2M191.2 544.4h1.2M201.2 528.7h1.2M193.7 542.7h1.2M182.2 539.5h1.2M178.7 536.8h1.2M185.1 520.5h1.2M192.3 540.2h1.2M196.9 542.4h1.2M188.9 536.8h1.2M177.3 523.8h1.2M179.4 536.5h1.2M188.4 532.9h1.2M199.7 530.6h1.2M198.1 533.9h1.2M194.2 531.6h1.2M202.1 535.5h1.2M206.9 527.5h1.2M215.4 535.3h1.2M182.6 526.2h1.2M194.3 515.8h1.2M209.8 525.5h1.2M204.2 534.8h1.2M207.9 522.8h1.2M190.4 539.9h1.2M209.6 526.7h1.2M183.6 527.4h1.2M188.6 542.5h1.2M209.7 535.8h1.2M178.8 543.8h1.2M187.8 531.8h1.2M221.1 536.8h1.2M199.5 528.2h1.2M177.1 535.2h1.2M184.9 527.0h1.2M210.2 545.7h1.2M196.0 545.9h1.2M185.2 536.5h1.2M197.7 530.7h1.2M179.8 530.6h1.2M202.8 531.3h1.2M206.7 538.3h1.2M206.8 528.3h1.2M194.3 534.5h1.2M177.2 528.4h1.2M222.9 537.8h1.2M200.2 533.7h1.2M184.8 532.8h1.2M187.7 533.3h1.2M220.9 531.6h1.2M186.3 532.3h1.2M190.4 535.0h1.2M182.7 532.1h1.2M208.4 540.9h1.2M189.7 538.6h1.2M190.2 534.9h1.2M193.9 539.4h1.2M187.5 534.6h1.2M213.8 540.4h1.2M198.2 527.0h1.2M191.8 543.6h1.2M194.3 541.7h1.2M187.4 531.7h1.2M207.9 531.3h1.2M188.1 518.4h1.2M218.3 529.7h1.2M194.3 532.5h1.2M194.6 531.4h1.2M178.7 534.8h1.2M218.3 530.5h1.2M194.0 537.1h1.2M205.7 539.6h1.2M192.5 531.7h1.2M209.6 534.4h1.2M210.9 537.7h1.2M188.1 541.1h1.2M192.1 540.4h1.2M208.5 536.5h1.2M211.2 534.7h1.2M186.2 531.9h1.2M186.9 532.4h1.2M208.4 529.5h1.2M194.8 532.4h1.2M181.0 532.7h1.2M184.0 522.4h1.2M202.0 540.4h1.2M182.5 533.7h1.2M188.8 528.4h1.2M178.8 539.4h1.2M205.3 532.7h1.2M182.6 530.8h1.2M193.0 533.9h1.2M223.8 536.6h1.2M182.5 526.8h1.2M177.3 530.5h1.2M206.7 535.7h1.2M186.6 534.4h1.2M188.4 540.4h1.2M188.4 532.7h1.2M194.2 526.5h1.2M188.7 534.7h1.2M186.5 533.0h1.2M186.6 542.8h1.2M187.4 536.1h1.2M202.0 535.7h1.2M195.7 531.4h1.2M202.5 536.2h1.2M178.4 531.7h1.2M192.1 533.4h1.2M182.3 530.1h1.2M200.1 522.6h1.2M195.6 538.6h1.2M194.5 537.4h1.2M178.8 533.3h1.2M186.3 531.3h1.2M198.5 529.4h1.2M197.5 526.8h1.2M187.0 536.9h1.2M178.4 534.7h1.2M179.0 530.0h1.2M195.8 528.2h1.2M197.4 532.5h1.2M193.0 533.0h1.2M208.4 525.6h1.2M211.1 531.5h1.2M203.3 537.8h1.2M204.7 535.6h1.2M189.9 544.1h1.2M202.9 525.9h1.2M182.2 534.7h1.2M223.2 533.3h1.2M205.0 523.7h1.2M177.4 531.4h1.2M206.1 539.6h1.2M196.9 535.9h1.2M189.2 531.8h1.2M182.6 530.4h1.2M193.3 537.9h1.2M191.7 531.9h1.2M193.8 535.2h1.2M199.0 535.7h1.2M210.4 533.9h1.2M193.1 528.0h1.2M185.4 540.5h1.2M197.4 535.3h1.2M196.0 526.8h1.2M187.8 537.4h1.2M217.8 535.8h1.2M188.1 535.8h1.2M195.9 530.7h1.2M184.3 527.2h1.2M202.9 525.6h1.2M208.6 542.8h1.2M199.4 538.8h1.2M193.8 538.9h1.2M207.2 533.3h1.2M195.4 535.9h1.2M190.5 534.7h1.2M199.6 530.4h1.2M197.4 528.5h1.2M215.0 537.9h1.2M206.8 542.4h1.2M190.8 529.5h1.2M181.9 534.2h1.2M182.7 533.3h1.2M223.8 524.1h1.2M179.5 533.8h1.2M191.1 532.4h1.2M198.1 530.5h1.2M191.6 537.2h1.2M186.4 525.7h1.2M199.9 528.7h1.2M209.1 535.1h1.2M209.0 531.4h1.2M199.5 528.9h1.2M208.4 541.3h1.2M213.9 530.1h1.2M190.9 523.5h1.2M184.9 534.5h1.2M197.1 525.7h1.2M191.7 534.2h1.2M208.4 534.5h1.2M179.3 535.9h1.2M190.8 531.3h1.2M213.8 532.4h1.2M187.1 530.8h1.2M186.6 531.3h1.2M193.8 533.8h1.2M202.4 529.6h1.2M209.4 538.5h1.2M182.1 532.7h1.2M192.1 532.9h1.2M184.2 527.4h1.2M199.6 529.7h1.2M215.5 541.5h1.2M205.6 527.0h1.2M206.4 538.1h1.2M177.9 530.4h1.2M213.7 538.8h1.2M194.1 534.6h1.2M186.1 543.8h1.2M182.4 530.5h1.2M191.2 544.0h1.2M182.0 541.8h1.2M184.0 537.3h1.2M194.6 527.5h1.2M180.7 533.2h1.2M204.9 533.3h1.2M204.4 533.1h1.2M178.7 535.7h1.2M193.6 530.6h1.2M197.0 530.9h1.2M178.8 538.7h1.2M216.9 533.4h1.2M183.5 526.8h1.2M184.0 538.9h1.2M195.0 539.4h1.2M189.8 532.1h1.2M212.1 530.8h1.2M210.2 529.8h1.2M192.7 530.2h1.2M198.3 540.0h1.2M178.6 524.0h1.2M196.5 537.3h1.2M208.1 534.0h1.2M204.2 536.8h1.2M177.8 523.3h1.2M186.2 529.5h1.2M194.5 527.0h1.2M198.4 540.0h1.2M197.6 527.8h1.2M197.6 539.5h1.2M184.6 533.4h1.2M190.1 524.6h1.2M191.2 532.5h1.2M184.4 529.7h1.2M179.4 522.3h1.2M183.5 529.9h1.2M216.3 538.4h1.2M191.3 530.4h1.2M181.4 528.9h1.2M199.4 529.9h1.2M180.3 528.0h1.2M197.1 533.3h1.2M209.4 524.6h1.2M199.7 526.9h1.2M181.3 539.3h1.2M181.7 534.4h1.2M182.8 537.0h1.2M188.2 531.9h1.2M177.9 530.0h1.2M188.0 529.7h1.2M223.4 529.1h1.2M196.4 530.3h1.2M189.1 541.0h1.2M182.9 531.8h1.2M191.7 535.4h1.2M216.0 532.7h1.2M182.8 525.8h1.2M217.8 528.9h1.2M178.1 524.3h1.2M203.2 526.7h1.2M207.3 537.5h1.2M182.1 535.5h1.2M218.2 534.3h1.2M212.9 539.4h1.2M184.2 536.1h1.2M212.8 529.0h1.2M201.7 532.7h1.2M186.6 532.8h1.2M188.3 528.4h1.2M181.9 539.7h1.2M214.1 531.6h1.2M178.4 534.3h1.2M192.3 535.0h1.2M207.4 540.9h1.2M195.3 531.6h1.2M185.7 526.6h1.2M200.8 541.3h1.2M195.3 527.9h1.2M189.8 536.3h1.2M204.8 531.1h1.2M206.2 532.8h1.2M193.9 530.6h1.2M182.8 530.9h1.2M222.0 529.5h1.2M203.9 532.9h1.2M211.2 539.5h1.2M195.1 533.9h1.2M217.4 537.0h1.2M209.2 534.6h1.2M184.0 542.1h1.2M182.6 531.7h1.2M185.8 532.8h1.2M203.6 535.4h1.2M201.5 529.3h1.2M220.5 533.1h1.2M184.4 527.1h1.2M205.0 522.6h1.2M200.3 530.6h1.2M181.4 531.1h1.2M206.7 527.5h1.2M199.1 527.9h1.2M177.2 541.0h1.2M196.4 533.2h1.2M204.4 528.2h1.2M203.4 527.8h1.2M203.6 527.4h1.2M191.6 533.0h1.2M203.0 528.0h1.2M204.6 538.7h1.2M195.8 538.3h1.2M200.8 534.4h1.2M184.6 529.3h1.2M198.8 533.9h1.2M197.0 534.1h1.2M199.5 521.8h1.2M177.4 528.2h1.2M184.5 533.3h1.2M193.8 529.1h1.2M190.0 531.0h1.2M193.5 529.1h1.2M202.3 535.5h1.2M212.6 531.0h1.2M197.9 525.5h1.2M177.3 538.1h1.2M193.1 521.2h1.2M207.4 529.4h1.2M202.5 536.6h1.2M211.4 549.5h1.2M216.9 533.9h1.2M204.4 541.5h1.2M206.6 538.8h1.2M197.0 533.0h1.2M189.1 528.8h1.2M188.7 522.3h1.2M179.8 529.9h1.2M198.2 540.7h1.2M186.0 539.9h1.2M207.6 528.7h1.2M205.5 538.2h1.2M192.0 537.4h1.2M177.3 533.0h1.2M214.9 527.6h1.2M198.3 538.6h1.2M205.4 537.1h1.2M204.8 530.1h1.2M198.4 538.2h1.2M198.5 533.6h1.2M191.1 533.3h1.2M178.6 528.2h1.2M207.3 539.0h1.2M177.8 529.0h1.2M181.8 535.1h1.2M196.0 537.1h1.2M211.7 535.8h1.2M188.0 534.0h1.2M197.3 535.7h1.2M195.0 529.8h1.2M186.4 525.7h1.2M188.4 529.2h1.2M212.5 528.8h1.2M202.6 542.9h1.2M193.1 531.2h1.2M202.9 528.0h1.2M207.5 532.6h1.2M190.2 527.6h1.2M194.8 543.5h1.2M188.1 532.2h1.2M211.4 533.0h1.2M183.3 532.7h1.2M211.9 531.4h1.2M185.4 530.6h1.2M178.6 535.8h1.2M193.9 534.4h1.2M212.0 535.8h1.2M203.5 533.1h1.2M178.8 536.2h1.2M200.8 529.2h1.2M182.2 531.5h1.2M198.1 537.8h1.2M187.1 529.9h1.2M186.6 530.9h1.2M178.3 536.1h1.2M196.0 529.2h1.2M209.9 528.3h1.2M221.6 526.7h1.2M203.0 537.5h1.2M186.8 531.7h1.2M207.8 539.0h1.2M183.7 538.0h1.2M206.6 539.8h1.2M194.5 530.3h1.2M195.2 539.0h1.2M212.7 543.2h1.2M215.8 537.4h1.2M186.5 537.6h1.2M180.7 528.7h1.2M202.2 529.0h1.2M206.7 539.0h1.2M203.8 535.5h1.2M219.2 537.8h1.2M197.4 535.5h1.2M220.2 528.6h1.2M205.7 537.2h1.2M201.1 522.7h1.2M183.0 535.8h1.2M178.7 534.3h1.2M192.8 531.5h1.2M186.8 525.6h1.2M211.8 530.5h1.2M188.0 539.8h1.2M189.7 527.5h1.2M202.8 535.5h1.2M202.7 536.0h1.2M214.9 536.7h1.2M195.4 533.8h1.2M217.4 524.3h1.2M180.2 531.7h1.2M195.8 526.0h1.2M179.8 535.9h1.2M220.3 532.6h1.2M177.2 532.1h1.2M189.5 532.3h1.2M199.0 538.1h1.2M201.5 534.1h1.2M210.0 538.6h1.2M188.1 528.4h1.2M207.5 532.2h1.2M184.0 529.8h1.2M209.4 536.5h1.2M196.5 535.0h1.2M220.7 537.6h1.2M187.9 536.8h1.2M193.2 534.1h1.2M225.1 532.4h1.2M203.6 533.2h1.2M185.5 545.0h1.2M185.3 539.8h1.2M212.0 531.0h1.2M182.2 530.4h1.2M200.2 529.0h1.2M216.3 535.8h1.2M196.4 527.1h1.2M209.8 543.2h1.2M195.3 536.2h1.2M191.3 538.9h1.2M197.9 530.2h1.2M212.3 525.0h1.2M208.6 529.4h1.2M198.1 532.7h1.2M203.9 540.8h1.2M203.6 527.5h1.2M197.9 531.4h1.2M177.9 534.4h1.2M177.4 526.6h1.2M184.1 534.3h1.2M190.6 533.6h1.2M205.0 534.8h1.2M204.4 529.1h1.2M207.4 532.7h1.2M177.7 528.7h1.2M179.9 532.2h1.2M212.4 533.6h1.2M187.3 523.1h1.2M206.2 539.8h1.2M202.8 542.2h1.2M202.2 532.2h1.2M186.6 525.2h1.2M188.8 536.1h1.2M201.4 528.3h1.2M198.6 541.6h1.2M217.7 531.3h1.2M199.8 533.5h1.2M182.5 546.4h1.2M201.3 544.1h1.2M193.2 529.3h1.2M205.9 533.7h1.2M197.2 529.1h1.2M188.4 536.3h1.2M200.7 530.6h1.2M199.0 536.6h1.2M200.4 528.0h1.2M180.5 525.4h1.2M195.0 534.4h1.2M194.9 526.8h1.2M192.2 533.6h1.2M207.8 533.4h1.2M182.0 541.1h1.2M186.2 534.1h1.2M188.8 535.0h1.2M204.0 528.0h1.2M198.4 528.9h1.2M193.7 532.6h1.2M185.9 526.4h1.2M179.3 531.3h1.2M198.4 536.2h1.2M194.8 530.0h1.2M178.4 533.6h1.2M201.0 537.7h1.2M206.9 525.4h1.2M188.0 533.8h1.2M212.1 530.6h1.2M182.8 528.8h1.2M183.2 531.3h1.2M192.4 536.9h1.2M201.8 538.9h1.2M182.2 536.5h1.2M207.7 537.7h1.2M192.9 531.1h1.2M214.4 535.1h1.2M207.3 537.7h1.2M201.2 531.2h1.2M188.6 537.1h1.2M182.5 536.7h1.2M212.8 528.7h1.2M181.4 531.5h1.2M178.0 533.2h1.2M191.5 534.5h1.2M220.9 530.9h1.2M199.2 537.5h1.2M205.7 531.3h1.2M189.4 526.0h1.2M188.9 536.3h1.2M199.7 535.4h1.2M194.4 541.3h1.2M190.9 531.9h1.2M201.7 535.5h1.2M189.1 536.8h1.2M184.2 532.7h1.2M192.6 535.7h1.2M188.7 532.2h1.2M194.4 533.0h1.2M202.5 538.3h1.2M207.5 532.8h1.2M201.9 538.5h1.2M206.1 537.1h1.2M194.9 530.2h1.2M196.5 526.7h1.2M187.9 531.9h1.2M192.9 538.0h1.2M185.1 528.6h1.2M198.9 533.1h1.2M178.9 533.3h1.2M192.3 527.9h1.2M186.6 530.8h1.2M183.1 535.8h1.2M188.8 537.6h1.2M211.5 533.1h1.2M216.2 539.0h1.2M212.8 529.5h1.2M201.4 537.7h1.2M187.5 533.3h1.2M190.9 538.9h1.2M200.7 530.9h1.2M203.8 536.1h1.2M191.4 527.5h1.2M194.7 539.3h1.2M198.2 537.9h1.2M218.8 540.9h1.2M208.4 530.1h1.2M220.7 531.7h1.2M196.0 525.2h1.2M190.5 532.2h1.2M193.0 533.5h1.2M179.5 533.5h1.2M186.5 535.1h1.2M201.6 549.3h1.2M205.5 530.6h1.2M202.9 534.4h1.2M208.6 535.9h1.2M209.2 536.3h1.2M187.3 535.9h1.2M182.2 533.8h1.2M196.8 530.2h1.2M177.3 526.9h1.2M214.3 535.9h1.2M200.1 530.3h1.2M220.5 525.5h1.2M183.3 531.9h1.2M194.9 542.4h1.2M202.1 541.2h1.2M193.5 532.7h1.2M182.9 530.9h1.2M189.1 527.8h1.2M213.8 534.8h1.2M192.9 528.2h1.2M183.5 530.1h1.2M208.4 531.5h1.2M197.3 537.4h1.2M204.8 543.2h1.2M185.2 530.6h1.2M190.1 535.6h1.2M195.0 532.4h1.2M205.2 528.2h1.2M203.3 529.9h1.2M206.5 530.9h1.2M180.0 541.9h1.2M203.6 544.0h1.2M208.2 537.9h1.2M188.6 537.1h1.2M192.9 536.8h1.2M177.3 532.7h1.2M201.0 536.2h1.2M212.7 530.7h1.2M184.6 533.0h1.2M218.7 536.3h1.2M206.5 529.4h1.2M195.1 537.1h1.2M187.5 536.1h1.2M187.0 526.3h1.2M191.0 535.7h1.2M214.5 524.6h1.2" stroke="#111" stroke-width="1.2" fill="none"/>
<polygon points="160.0,593.0 158.5,580.0 159.5,565.0 161.5,560.8 164.0,561.3 167.0,567.0 168.5,571.5 172.0,567.6 173.9,566.6 172.5,573.0 170.0,582.0 167.0,592.0 163.5,594.0" fill="#6a6a6a" stroke="#c8c8c8" stroke-width=".9" stroke-linejoin="round"/>
<rect x="251.3" y="495.0" width="103.30000000000001" height="99.60000000000002" fill="none" stroke="#5a5a5a" stroke-width=".9"/>
<path d="M251.3 587.1h1.8M259.1 594.6v-1.8M251.3 582.7h1.8M263.6 594.6v-1.8M251.3 579.6h1.8M266.8 594.6v-1.8M251.3 577.2h1.8M269.4 594.6v-1.8M251.3 575.2h1.8M271.4 594.6v-1.8M251.3 573.6h1.8M273.1 594.6v-1.8M251.3 572.1h1.8M274.6 594.6v-1.8M251.3 570.8h1.8M275.9 594.6v-1.8M251.3 562.2h1.8M284.9 594.6v-1.8M251.3 557.8h1.8M289.4 594.6v-1.8M251.3 554.7h1.8M292.7 594.6v-1.8M251.3 552.3h1.8M295.2 594.6v-1.8M251.3 550.3h1.8M297.2 594.6v-1.8M251.3 548.7h1.8M298.9 594.6v-1.8M251.3 547.2h1.8M300.4 594.6v-1.8M251.3 545.9h1.8M301.8 594.6v-1.8M251.3 537.3h1.8M310.7 594.6v-1.8M251.3 532.9h1.8M315.3 594.6v-1.8M251.3 529.8h1.8M318.5 594.6v-1.8M251.3 527.4h1.8M321.0 594.6v-1.8M251.3 525.4h1.8M323.0 594.6v-1.8M251.3 523.8h1.8M324.8 594.6v-1.8M251.3 522.3h1.8M326.3 594.6v-1.8M251.3 521.0h1.8M327.6 594.6v-1.8M251.3 512.4h1.8M336.5 594.6v-1.8M251.3 508.0h1.8M341.1 594.6v-1.8M251.3 504.9h1.8M344.3 594.6v-1.8M251.3 502.5h1.8M346.8 594.6v-1.8M251.3 500.5h1.8M348.9 594.6v-1.8M251.3 498.9h1.8M350.6 594.6v-1.8M251.3 497.4h1.8M352.1 594.6v-1.8M251.3 496.1h1.8M353.4 594.6v-1.8" stroke="#666" stroke-width=".6" fill="none"/>
<line x1="280" y1="495.0" x2="280" y2="594.6" stroke="#222" stroke-width="1.1"/>
<line x1="251.3" y1="555.4" x2="354.6" y2="555.4" stroke="#222" stroke-width="1.1"/>
<ellipse cx="308.5" cy="531.9" rx="29" ry="21.9" fill="none" stroke="#111" stroke-width="1.6"/>
<text font-size="8.6" textLength="26.3" lengthAdjust="spacingAndGlyphs" x="327.2" y="507">0.53%</text>
<polygon points="261.8,594.2 260.3,580.0 260.9,567.6 262.8,559.1 265.3,556.4 271.8,555.8 278.8,555.8 280.8,558.6 279.8,570.0 277.1,580.0 273.1,592.0 269.8,594.4" fill="#858585"/>
<path d="M278.9 563.5h1.2M271.2 592.3h1.2M273.5 590.1h1.2M279.2 570.0h1.2M276.4 560.2h1.2M269.3 556.8h1.2M267.7 557.8h1.2M276.8 566.0h1.2M274.5 567.9h1.2M275.6 559.0h1.2M275.2 562.1h1.2M273.4 565.2h1.2M271.9 566.1h1.2M274.2 567.0h1.2M277.0 556.1h1.2M275.7 578.8h1.2M274.4 556.2h1.2M278.6 558.7h1.2M275.3 565.3h1.2M276.0 577.2h1.2M272.4 563.4h1.2M277.8 571.8h1.2M279.4 566.3h1.2M272.9 560.3h1.2M272.2 590.5h1.2M277.3 557.6h1.2M274.5 561.9h1.2M274.1 585.0h1.2M279.3 564.8h1.2M276.7 574.2h1.2M272.9 564.1h1.2M272.5 560.1h1.2M271.8 560.6h1.2M276.2 557.3h1.2M269.1 558.6h1.2M274.7 568.6h1.2M274.3 558.9h1.2M267.6 560.3h1.2M275.6 567.9h1.2M271.5 556.8h1.2M275.1 579.4h1.2M277.7 577.8h1.2M271.6 561.5h1.2M276.8 559.0h1.2M274.2 565.6h1.2M276.4 579.3h1.2M276.1 580.5h1.2M276.5 556.2h1.2M272.9 562.3h1.2M272.9 560.2h1.2M273.0 569.7h1.2M273.0 589.5h1.2M274.5 583.3h1.2M278.4 572.3h1.2M279.9 566.1h1.2M275.1 562.3h1.2M271.2 564.2h1.2M279.8 561.9h1.2M278.6 562.4h1.2M270.4 592.9h1.2M278.2 557.0h1.2M278.2 569.8h1.2M278.3 565.3h1.2M276.6 578.8h1.2M269.3 558.0h1.2M270.4 593.5h1.2M271.4 565.8h1.2M274.7 556.0h1.2M278.5 563.0h1.2M266.8 593.9h1.2M278.6 573.5h1.2M261.1 576.1h1.2M271.8 593.0h1.2M280.0 564.1h1.2M280.9 568.7h1.2M260.7 590.5h1.2M260.1 571.7h1.2M276.6 584.8h1.2M260.8 592.6h1.2M260.5 575.1h1.2M261.8 587.0h1.2M280.6 562.0h1.2M259.8 579.8h1.2M276.3 583.1h1.2M271.7 556.5h1.2M275.1 583.1h1.2M271.3 593.6h1.2M263.5 593.6h1.2M260.1 575.0h1.2M265.0 557.0h1.2M275.8 582.5h1.2M262.1 558.5h1.2M268.0 592.4h1.2M262.2 560.5h1.2M281.1 565.9h1.2M261.5 567.5h1.2M276.5 577.4h1.2M261.6 565.7h1.2M269.8 556.6h1.2M277.4 576.8h1.2M274.7 586.8h1.2M259.8 580.7h1.2M261.3 576.8h1.2M261.6 571.9h1.2M278.2 580.3h1.2M279.2 571.6h1.2M279.1 576.2h1.2M275.9 584.2h1.2M261.6 571.2h1.2M276.3 555.6h1.2M262.4 593.6h1.2M262.2 558.0h1.2M280.6 564.0h1.2M261.2 567.0h1.2M275.3 583.9h1.2M260.9 571.7h1.2M272.3 556.2h1.2M279.2 572.7h1.2M261.4 571.8h1.2M279.6 570.6h1.2M268.3 557.4h1.2M259.3 588.7h1.2M258.9 582.9h1.2M279.6 568.7h1.2M275.4 586.3h1.2M279.5 571.1h1.2M273.6 590.5h1.2M278.5 569.4h1.2M276.5 584.5h1.2M274.0 587.6h1.2M280.8 564.7h1.2M280.4 557.1h1.2M260.4 578.1h1.2M260.9 570.6h1.2M260.4 585.7h1.2M260.3 582.4h1.2M266.3 557.1h1.2M261.7 564.6h1.2M280.7 560.3h1.2M274.7 586.5h1.2M259.5 566.9h1.2M271.6 592.3h1.2M274.0 587.8h1.2M260.5 574.8h1.2M280.6 563.4h1.2M260.8 574.7h1.2M261.9 588.2h1.2M261.0 572.5h1.2M260.3 572.5h1.2M261.6 592.1h1.2M261.0 591.8h1.2M276.6 585.0h1.2M273.2 590.8h1.2M274.1 590.4h1.2M261.7 586.2h1.2M262.4 590.6h1.2M273.9 590.1h1.2M265.3 556.5h1.2M261.4 558.1h1.2M277.9 574.4h1.2M281.3 556.9h1.2M263.5 560.2h1.2M260.4 579.1h1.2M262.2 582.7h1.2M276.9 575.0h1.2M271.7 593.3h1.2M262.0 590.2h1.2M261.0 571.9h1.2M281.3 556.8h1.2M260.5 567.7h1.2M277.0 554.6h1.2M278.2 555.4h1.2M261.1 568.1h1.2M261.5 581.8h1.2M269.5 555.7h1.2M273.7 585.0h1.2M259.1 579.5h1.2M280.6 557.1h1.2M275.0 584.0h1.2M279.7 561.4h1.2M263.5 557.5h1.2M269.9 593.6h1.2M275.9 581.3h1.2M262.4 593.6h1.2M261.2 563.8h1.2M276.2 554.7h1.2M272.7 555.8h1.2M275.1 588.7h1.2M280.3 565.4h1.2M281.6 559.5h1.2M278.3 555.4h1.2M272.3 593.2h1.2M263.5 559.9h1.2M259.5 581.6h1.2M260.0 576.0h1.2M260.6 570.4h1.2M261.9 583.2h1.2M264.5 593.6h1.2M281.1 559.8h1.2M274.9 584.6h1.2M273.7 555.3h1.2M279.7 557.1h1.2M261.1 571.7h1.2M271.6 592.1h1.2M269.6 556.6h1.2M268.7 555.5h1.2M277.0 578.0h1.2M273.2 591.9h1.2M263.1 593.6h1.2M276.6 555.5h1.2M269.9 556.1h1.2M275.0 586.1h1.2M268.8 556.5h1.2M260.3 573.0h1.2M274.5 554.3h1.2M261.2 563.2h1.2M260.3 566.5h1.2M276.0 579.7h1.2M263.5 557.0h1.2M280.1 567.8h1.2M261.9 563.7h1.2M259.6 584.1h1.2M276.2 582.8h1.2M278.5 580.6h1.2M278.6 574.0h1.2M280.4 564.8h1.2M260.7 576.4h1.2M277.3 556.3h1.2M275.2 586.6h1.2M276.8 581.8h1.2M279.9 563.6h1.2M280.8 567.5h1.2M262.4 576.2h1.2M261.5 588.4h1.2M272.9 589.0h1.2M261.8 592.6h1.2M261.0 568.6h1.2M267.1 555.0h1.2M278.9 574.2h1.2M278.4 572.6h1.2M273.7 590.8h1.2M270.3 593.6h1.2M261.6 566.7h1.2M260.6 568.4h1.2M260.1 581.9h1.2M263.2 561.1h1.2M259.3 583.3h1.2M266.5 593.6h1.2M281.4 561.9h1.2M276.9 556.4h1.2M262.2 588.1h1.2M270.1 592.9h1.2M261.2 570.3h1.2M277.1 581.0h1.2M261.0 572.7h1.2M261.5 567.6h1.2M260.6 579.8h1.2M280.4 558.5h1.2M261.7 566.0h1.2M280.7 561.2h1.2M277.2 568.0h1.2M278.2 572.2h1.2M277.6 581.5h1.2M275.9 575.1h1.2M277.2 579.2h1.2M278.7 561.5h1.2M279.2 580.7h1.2M286.3 560.7h1.2M275.9 577.4h1.2M280.2 560.0h1.2M283.9 566.3h1.2M276.0 581.3h1.2M281.2 568.1h1.2M279.2 566.9h1.2M281.8 563.8h1.2M274.8 575.7h1.2M276.0 577.7h1.2M281.9 567.6h1.2M278.4 561.8h1.2M292.3 572.2h1.2M282.7 567.4h1.2M278.4 564.5h1.2M287.1 567.8h1.2M277.0 580.1h1.2M281.1 564.4h1.2M274.2 581.7h1.2M278.7 560.4h1.2M276.1 568.9h1.2M279.1 568.9h1.2M276.1 569.9h1.2M276.5 569.2h1.2M278.6 565.3h1.2M282.9 565.9h1.2M282.5 562.6h1.2M275.9 570.7h1.2M276.7 569.8h1.2M280.7 573.5h1.2M277.6 578.7h1.2M276.3 574.1h1.2M281.9 576.6h1.2M277.4 569.6h1.2M274.2 580.5h1.2M286.7 566.2h1.2M280.6 561.2h1.2M277.2 569.8h1.2M273.6 581.8h1.2M280.2 562.6h1.2M274.4 581.1h1.2M278.3 570.1h1.2M279.4 568.9h1.2M285.5 563.3h1.2M279.6 571.8h1.2M279.8 572.1h1.2M295.2 557.4h1.2M286.5 561.2h1.2M282.7 578.9h1.2M283.7 563.3h1.2M277.3 571.7h1.2M282.0 573.7h1.2M278.6 580.3h1.2M280.8 565.1h1.2M277.3 574.7h1.2M281.2 561.0h1.2M275.3 582.8h1.2M283.7 574.2h1.2M289.3 559.9h1.2M275.0 576.3h1.2M276.8 568.9h1.2M280.9 559.9h1.2M275.1 573.4h1.2M283.9 571.0h1.2M283.6 571.8h1.2M275.4 573.0h1.2M280.1 565.4h1.2M280.7 557.8h1.2M282.8 567.1h1.2M276.2 576.7h1.2M278.4 570.5h1.2M276.0 574.8h1.2M282.0 560.2h1.2M284.1 566.4h1.2M285.0 563.1h1.2M276.7 565.8h1.2M283.1 557.9h1.2M275.8 582.2h1.2M279.7 564.3h1.2M278.4 568.9h1.2M279.9 579.9h1.2M281.4 575.4h1.2M277.3 581.2h1.2M279.4 561.7h1.2M275.0 582.5h1.2M279.8 577.6h1.2M282.3 564.5h1.2M280.8 558.6h1.2M276.2 568.8h1.2M276.6 579.1h1.2M279.6 562.4h1.2M286.3 571.4h1.2M278.3 561.4h1.2M280.9 569.0h1.2M279.5 561.7h1.2M280.0 566.9h1.2M277.8 565.2h1.2M281.1 570.6h1.2M279.1 565.9h1.2M284.8 557.8h1.2M278.4 559.9h1.2M279.7 569.2h1.2M277.2 576.0h1.2M276.5 573.3h1.2M276.3 570.6h1.2M278.5 572.6h1.2M278.1 565.9h1.2M278.9 575.6h1.2M282.0 562.8h1.2M275.5 573.3h1.2M274.6 576.5h1.2M283.5 577.8h1.2M275.6 575.2h1.2M276.8 569.0h1.2M284.9 567.8h1.2M282.8 565.3h1.2M278.7 575.4h1.2M276.0 576.9h1.2M277.7 573.5h1.2M289.6 560.3h1.2M282.1 573.3h1.2M287.0 563.7h1.2M280.4 565.9h1.2M283.1 573.8h1.2M279.6 577.1h1.2M284.0 574.3h1.2M278.1 572.6h1.2M275.6 574.8h1.2M277.7 571.4h1.2M281.7 562.7h1.2M274.3 580.2h1.2M279.5 565.6h1.2M284.1 565.3h1.2M274.4 582.7h1.2M278.6 565.0h1.2M286.3 559.8h1.2M277.0 565.1h1.2M282.7 574.4h1.2M277.7 574.6h1.2M277.8 563.6h1.2M278.5 563.0h1.2M286.9 557.6h1.2M275.5 578.8h1.2M278.8 582.6h1.2M286.8 557.4h1.2M275.9 575.1h1.2M277.2 580.0h1.2M277.8 576.8h1.2M277.6 561.0h1.2M286.4 558.9h1.2M279.5 561.8h1.2M279.5 570.7h1.2M276.8 574.3h1.2M281.2 560.8h1.2M274.2 579.8h1.2M290.6 562.4h1.2M276.4 582.0h1.2M277.9 564.2h1.2M274.5 582.2h1.2M277.2 574.9h1.2M278.7 559.6h1.2M286.2 565.9h1.2M280.8 565.4h1.2M267.3 545.5h1.2M271.3 550.4h1.2M279.0 556.1h1.2M279.4 548.4h1.2M274.5 548.7h1.2M272.0 555.7h1.2M274.0 543.7h1.2M272.4 548.8h1.2M265.3 553.2h1.2M267.6 554.9h1.2M265.3 556.0h1.2M279.2 546.5h1.2M277.2 547.7h1.2M277.8 555.0h1.2M277.8 552.9h1.2M269.4 554.7h1.2M268.9 550.7h1.2M275.9 554.4h1.2M279.0 545.9h1.2M271.0 548.5h1.2M273.9 551.6h1.2M278.5 549.6h1.2M279.1 550.0h1.2M271.9 551.4h1.2M269.5 556.3h1.2M265.8 551.4h1.2M267.1 552.0h1.2M278.3 554.3h1.2M269.1 543.3h1.2M272.7 549.6h1.2M269.1 556.2h1.2M271.7 550.5h1.2M266.9 549.9h1.2M274.4 549.2h1.2M273.4 555.2h1.2M277.7 542.9h1.2M273.2 549.1h1.2M272.5 546.7h1.2M271.4 547.5h1.2M276.0 550.2h1.2M274.2 549.7h1.2M270.4 552.8h1.2M272.2 548.4h1.2M270.9 552.0h1.2M274.4 554.0h1.2M269.8 544.1h1.2M273.3 548.5h1.2M275.1 548.8h1.2M265.5 552.6h1.2M272.9 553.1h1.2M278.5 548.9h1.2M274.9 548.4h1.2M276.9 553.3h1.2M278.4 555.7h1.2M272.1 551.3h1.2M273.5 547.8h1.2M269.5 541.5h1.2M273.8 556.2h1.2M268.2 554.8h1.2M273.8 541.4h1.2M270.4 554.0h1.2M268.6 554.8h1.2M279.9 555.7h1.2M271.3 547.0h1.2M279.9 555.9h1.2M268.7 543.8h1.2M273.9 544.2h1.2M272.8 541.7h1.2M265.6 552.1h1.2M269.3 549.8h1.2M270.2 544.0h1.2M271.4 544.0h1.2M275.7 545.5h1.2M274.2 542.9h1.2M269.1 553.2h1.2M266.3 554.7h1.2M269.7 553.9h1.2M267.4 545.2h1.2M272.8 551.1h1.2M275.4 555.5h1.2M276.2 555.0h1.2M278.3 555.4h1.2M266.4 553.8h1.2M267.7 555.5h1.2M269.4 555.7h1.2M272.1 542.1h1.2M276.3 552.7h1.2M265.8 556.1h1.2M271.3 544.2h1.2M267.5 555.3h1.2M279.0 546.8h1.2M275.7 552.6h1.2M268.5 551.7h1.2M270.1 553.7h1.2M276.9 554.5h1.2M270.5 556.0h1.2M267.2 547.0h1.2M274.7 542.2h1.2M268.9 548.5h1.2M277.7 555.0h1.2M268.3 542.0h1.2M269.6 545.3h1.2M273.9 556.1h1.2M277.7 556.0h1.2M270.7 544.8h1.2M272.6 555.6h1.2M267.4 546.7h1.2M268.2 547.5h1.2M267.7 552.9h1.2M272.9 556.1h1.2M278.7 553.9h1.2M275.9 543.5h1.2M274.8 550.9h1.2M272.1 553.5h1.2M271.7 550.3h1.2M277.7 552.0h1.2M276.0 541.6h1.2M271.0 544.5h1.2M267.9 556.1h1.2M276.4 551.1h1.2M278.2 547.0h1.2M270.7 546.1h1.2M272.0 556.2h1.2M278.1 553.6h1.2M273.8 543.5h1.2M275.9 546.2h1.2M271.9 550.8h1.2M276.6 542.4h1.2M279.4 549.9h1.2M276.6 555.5h1.2M270.3 550.3h1.2M273.6 555.7h1.2M269.6 544.2h1.2M278.8 543.6h1.2M273.2 555.1h1.2M270.4 551.3h1.2M268.7 555.8h1.2M277.1 542.7h1.2M273.4 542.5h1.2M266.6 551.1h1.2M273.8 552.2h1.2M268.9 541.5h1.2M267.0 548.4h1.2M270.3 542.0h1.2M274.7 547.7h1.2M271.8 555.0h1.2M268.0 552.3h1.2M266.2 552.7h1.2M279.0 547.5h1.2M271.4 550.4h1.2M273.9 532.3h1.2M276.4 522.5h1.2M267.5 550.1h1.2M265.9 531.6h1.2M278.3 511.4h1.2M271.6 536.7h1.2M273.9 510.9h1.2M279.6 512.9h1.2M271.6 543.2h1.2M278.2 512.9h1.2M269.2 549.2h1.2M268.2 524.3h1.2M273.9 508.2h1.2M272.7 529.3h1.2M275.9 503.6h1.2M271.0 546.5h1.2M269.0 548.5h1.2M269.2 551.0h1.2M266.4 546.5h1.2M264.9 522.3h1.2M267.0 549.1h1.2M265.2 544.7h1.2M270.7 519.4h1.2M264.5 542.3h1.2M269.7 549.1h1.2M277.3 517.3h1.2M274.8 519.0h1.2M274.7 507.7h1.2M268.7 534.4h1.2M270.3 517.1h1.2M277.6 528.0h1.2M269.4 511.9h1.2M274.8 525.5h1.2M270.4 536.9h1.2M264.4 543.2h1.2M263.6 553.1h1.2M263.8 545.0h1.2M267.8 546.7h1.2M271.9 552.2h1.2M262.0 531.5h1.2M275.4 505.6h1.2M264.5 531.1h1.2M275.9 508.4h1.2M274.2 531.3h1.2M272.3 514.9h1.2M274.2 548.9h1.2M276.6 533.7h1.2M266.6 538.2h1.2M271.1 544.1h1.2M264.9 532.1h1.2M272.5 533.0h1.2M267.6 529.9h1.2M268.5 519.2h1.2M272.0 528.6h1.2M275.6 526.2h1.2M276.3 515.0h1.2M263.4 545.3h1.2M264.2 544.1h1.2M268.6 553.1h1.2M275.5 516.2h1.2M270.7 548.7h1.2M267.1 516.0h1.2M278.9 519.8h1.2M266.2 535.0h1.2M278.6 529.3h1.2M274.9 531.9h1.2M261.6 547.7h1.2M275.7 518.8h1.2M275.7 505.4h1.2M272.7 527.1h1.2M275.0 524.4h1.2M275.6 523.2h1.2M275.6 519.1h1.2M273.4 553.2h1.2M279.6 509.3h1.2M263.7 552.5h1.2M268.6 547.5h1.2M275.2 525.8h1.2M266.9 549.9h1.2M263.0 544.4h1.2M276.6 503.5h1.2M269.8 523.8h1.2M270.7 538.9h1.2M262.8 530.6h1.2M274.1 517.2h1.2M271.7 527.9h1.2M276.3 503.9h1.2M276.7 549.1h1.2M257.6 549.5h1.2M271.9 517.9h1.2M274.0 523.5h1.2M263.1 546.1h1.2M273.8 510.4h1.2M275.3 520.5h1.2M261.6 553.3h1.2M268.7 534.9h1.2M264.4 546.8h1.2M274.8 533.1h1.2M278.7 519.4h1.2M267.3 552.3h1.2M272.1 539.0h1.2M268.5 542.9h1.2M269.3 539.7h1.2M271.2 510.2h1.2M271.6 536.9h1.2M266.2 549.5h1.2M267.7 552.2h1.2M268.1 523.0h1.2M269.8 537.2h1.2M275.7 537.6h1.2M258.9 541.1h1.2M263.5 534.9h1.2M274.9 512.9h1.2M262.7 543.0h1.2M273.3 540.0h1.2M278.3 511.9h1.2M269.8 552.8h1.2M260.4 533.8h1.2M269.0 538.9h1.2M277.1 508.6h1.2M275.7 520.2h1.2M260.2 550.6h1.2M265.4 534.4h1.2M266.9 547.6h1.2M268.0 552.7h1.2M275.7 522.4h1.2M267.9 526.5h1.2M276.1 513.7h1.2M267.4 527.3h1.2M268.4 539.0h1.2M272.1 511.5h1.2M275.7 506.1h1.2M276.1 514.3h1.2M272.1 532.5h1.2M274.9 538.5h1.2M264.1 530.8h1.2M274.8 535.4h1.2M267.3 538.1h1.2M266.3 552.3h1.2M271.6 543.0h1.2M269.1 547.3h1.2M273.4 535.7h1.2M264.9 548.9h1.2M275.9 525.0h1.2M279.1 513.1h1.2M268.4 551.8h1.2M270.5 545.5h1.2M268.7 533.7h1.2M269.7 551.9h1.2M279.8 506.9h1.2M264.9 552.4h1.2M276.0 517.3h1.2M280.7 520.7h1.2M278.0 536.0h1.2M267.7 535.5h1.2M276.2 526.7h1.2M262.9 544.8h1.2M271.3 526.1h1.2M265.7 549.3h1.2M268.5 518.8h1.2M268.1 541.4h1.2M268.8 537.5h1.2M277.3 507.4h1.2M266.8 522.5h1.2M267.6 523.9h1.2M272.0 523.0h1.2M272.5 524.6h1.2M266.5 548.7h1.2M268.7 531.8h1.2M274.4 519.0h1.2M278.5 527.8h1.2M277.6 504.4h1.2M304.0 528.7h1.2M316.5 537.3h1.2M323.3 538.9h1.2M302.1 538.8h1.2M322.1 536.3h1.2M285.1 536.4h1.2M305.5 531.9h1.2M296.4 544.6h1.2M302.6 540.7h1.2M292.4 538.2h1.2M313.9 540.0h1.2M289.7 529.8h1.2M284.6 539.2h1.2M298.8 545.2h1.2M286.3 535.0h1.2M296.0 546.7h1.2M294.6 532.3h1.2M289.8 540.0h1.2M286.1 537.4h1.2M291.2 536.2h1.2M308.3 538.5h1.2M297.6 540.5h1.2M292.5 535.9h1.2M292.1 538.8h1.2M314.5 530.7h1.2M292.3 539.4h1.2M317.6 533.7h1.2M284.1 540.4h1.2M317.4 535.4h1.2M288.8 542.5h1.2M312.0 531.3h1.2M300.0 538.0h1.2M288.7 538.2h1.2M305.4 536.1h1.2M291.2 535.0h1.2M291.8 528.5h1.2M286.2 535.9h1.2M285.8 534.3h1.2M288.3 539.9h1.2M284.5 535.6h1.2M295.8 543.2h1.2M283.9 529.2h1.2M305.3 534.3h1.2M301.3 541.4h1.2M288.3 531.5h1.2M294.8 538.1h1.2M300.5 537.9h1.2M287.8 533.6h1.2M310.4 540.3h1.2M310.2 541.0h1.2M294.1 538.7h1.2M321.1 536.1h1.2M306.0 533.2h1.2M313.0 537.9h1.2M287.1 533.9h1.2M283.3 542.9h1.2M302.2 538.6h1.2M305.3 545.8h1.2M313.1 534.5h1.2M310.9 538.6h1.2M315.0 546.6h1.2M301.5 531.2h1.2M292.7 535.5h1.2M297.7 541.4h1.2M299.8 527.3h1.2M298.7 544.6h1.2M309.0 548.5h1.2M289.8 530.7h1.2M295.0 542.4h1.2M293.5 536.2h1.2M317.4 530.3h1.2M318.4 528.8h1.2M304.6 538.4h1.2M314.8 536.1h1.2M295.6 536.4h1.2M313.7 539.6h1.2M307.7 536.1h1.2M305.9 541.8h1.2M294.2 532.8h1.2M304.5 534.8h1.2M294.0 533.5h1.2M285.0 535.0h1.2M291.1 537.0h1.2M314.4 531.1h1.2M293.9 539.2h1.2M320.7 541.3h1.2M313.9 534.7h1.2M287.0 540.0h1.2M286.7 542.6h1.2M299.4 547.1h1.2M282.4 530.3h1.2M294.5 543.5h1.2M286.7 539.1h1.2M293.4 541.9h1.2M320.1 533.7h1.2M304.6 546.8h1.2M289.5 548.5h1.2M293.4 536.7h1.2M300.7 532.3h1.2M316.9 532.0h1.2M286.1 535.2h1.2M294.0 535.4h1.2M287.7 538.9h1.2M297.0 531.8h1.2M289.7 541.1h1.2M289.6 537.7h1.2M297.2 536.2h1.2M287.9 536.1h1.2M309.4 533.4h1.2M285.7 540.1h1.2M292.1 538.7h1.2M286.2 525.6h1.2M301.2 527.8h1.2M291.9 525.7h1.2M311.1 538.5h1.2M289.8 534.1h1.2M298.2 536.0h1.2M285.8 539.5h1.2M284.3 538.6h1.2M285.6 547.6h1.2M282.7 537.6h1.2M299.1 548.0h1.2M305.3 536.9h1.2M283.3 528.7h1.2M290.0 536.5h1.2M289.4 532.2h1.2M307.9 534.5h1.2M286.9 540.7h1.2M312.1 543.1h1.2M311.6 532.1h1.2M286.0 538.0h1.2M310.2 542.9h1.2M290.1 527.2h1.2M310.8 539.9h1.2M291.6 536.3h1.2M283.2 539.3h1.2M322.0 539.1h1.2M289.7 531.4h1.2M298.9 536.6h1.2M293.6 534.5h1.2M300.4 532.5h1.2M301.1 533.8h1.2M289.9 535.6h1.2M308.7 536.4h1.2M316.6 529.2h1.2M282.2 537.4h1.2M309.1 537.6h1.2M311.2 532.6h1.2M305.4 535.8h1.2M288.8 540.6h1.2M281.8 523.8h1.2M298.7 536.7h1.2M298.5 541.6h1.2M308.6 532.7h1.2M299.6 535.6h1.2M296.6 535.2h1.2M291.9 533.2h1.2M309.7 537.7h1.2M299.9 531.1h1.2M298.3 538.9h1.2M294.8 540.3h1.2M294.9 534.5h1.2M297.4 545.6h1.2M314.0 530.7h1.2M323.5 536.6h1.2M300.1 534.7h1.2M312.5 534.0h1.2M289.3 538.6h1.2M295.2 535.9h1.2M285.7 529.0h1.2M290.6 535.9h1.2M291.8 534.1h1.2M307.8 532.1h1.2M292.1 544.0h1.2M307.5 536.7h1.2M300.6 539.7h1.2M322.3 535.6h1.2M289.3 533.1h1.2M290.7 534.5h1.2M307.1 538.2h1.2M282.9 525.2h1.2M295.9 544.7h1.2M325.8 537.7h1.2M307.3 531.7h1.2M285.3 538.0h1.2M297.2 531.3h1.2M302.9 538.7h1.2M314.6 535.0h1.2M313.8 538.4h1.2M313.1 534.4h1.2M296.9 538.1h1.2M320.6 535.5h1.2M293.4 546.9h1.2M288.0 548.4h1.2M288.5 531.0h1.2M299.5 539.7h1.2M284.1 539.1h1.2M287.4 542.4h1.2M291.5 542.0h1.2M299.9 533.9h1.2M282.1 543.6h1.2M295.7 540.3h1.2M304.5 536.8h1.2M286.0 540.4h1.2M302.6 539.0h1.2M314.8 537.4h1.2M292.7 537.5h1.2M297.6 541.0h1.2M296.4 542.8h1.2M295.1 537.9h1.2M320.4 534.6h1.2M293.9 528.1h1.2M307.1 536.7h1.2M308.6 538.6h1.2M285.6 541.2h1.2M294.6 527.2h1.2M285.2 528.1h1.2M284.9 533.4h1.2M290.4 539.2h1.2M298.1 532.2h1.2M306.4 534.6h1.2M290.1 548.8h1.2M322.6 539.2h1.2M294.0 534.6h1.2M309.5 534.6h1.2M305.7 538.8h1.2M289.8 536.0h1.2M318.0 534.3h1.2M300.2 534.9h1.2M281.8 537.2h1.2M303.7 534.2h1.2M296.1 538.0h1.2M303.1 529.4h1.2M317.9 533.4h1.2M291.7 540.0h1.2M298.6 534.3h1.2M293.5 538.5h1.2M291.9 544.8h1.2M309.5 535.6h1.2M290.8 537.4h1.2M283.0 535.8h1.2M293.0 536.0h1.2M311.3 539.7h1.2M283.5 538.9h1.2M301.1 537.5h1.2M312.2 543.7h1.2M299.0 537.0h1.2M290.7 531.9h1.2M288.8 539.4h1.2M282.9 544.8h1.2M300.2 536.4h1.2M314.5 535.8h1.2M307.2 531.0h1.2M301.0 542.2h1.2M322.5 534.4h1.2M286.4 528.5h1.2M288.9 534.2h1.2M315.1 533.9h1.2M315.5 538.9h1.2M296.5 531.0h1.2M292.9 530.0h1.2M298.2 532.9h1.2M290.1 529.1h1.2M288.4 535.8h1.2M306.5 542.2h1.2M291.7 533.0h1.2M289.8 542.3h1.2M288.2 537.4h1.2M300.3 534.9h1.2M320.0 539.5h1.2M294.5 545.8h1.2M324.0 536.0h1.2M292.4 540.0h1.2M288.8 548.9h1.2M289.2 538.2h1.2M288.3 543.5h1.2M281.4 528.8h1.2M290.5 537.7h1.2M307.1 528.5h1.2M296.7 539.6h1.2M316.6 535.1h1.2M301.5 531.1h1.2M317.1 526.4h1.2M304.7 533.8h1.2M289.6 536.2h1.2M290.5 533.9h1.2M290.0 543.6h1.2M307.1 534.7h1.2M288.6 536.8h1.2M299.7 524.8h1.2M298.1 531.5h1.2M303.7 539.1h1.2M291.5 533.6h1.2M292.5 537.7h1.2M304.8 543.7h1.2M281.5 537.7h1.2M286.1 542.4h1.2M297.0 527.0h1.2M306.3 532.3h1.2M291.9 526.8h1.2M291.2 530.3h1.2M305.8 537.2h1.2M306.6 538.4h1.2M283.7 529.7h1.2M300.7 539.9h1.2M287.7 540.3h1.2M298.5 535.0h1.2M295.8 525.6h1.2M292.6 541.9h1.2M308.2 542.0h1.2M319.2 543.1h1.2M310.5 541.1h1.2M295.0 545.6h1.2M283.6 542.1h1.2M286.1 541.0h1.2M316.2 535.3h1.2M287.9 542.4h1.2M302.3 533.8h1.2M303.2 544.2h1.2M320.0 530.8h1.2M282.7 543.1h1.2M293.0 539.5h1.2M317.1 533.8h1.2M287.6 533.2h1.2M287.7 542.2h1.2M283.1 538.3h1.2M295.2 535.2h1.2M316.6 542.2h1.2M294.8 540.0h1.2M300.0 536.5h1.2M289.3 537.0h1.2M315.4 545.0h1.2M283.2 530.8h1.2M291.6 539.4h1.2M290.5 534.9h1.2M303.2 530.7h1.2M299.8 540.0h1.2M306.7 540.1h1.2M316.6 541.3h1.2M300.2 534.1h1.2M291.6 536.1h1.2M298.3 540.9h1.2M310.7 537.2h1.2M311.7 540.6h1.2M281.3 527.5h1.2M308.7 541.5h1.2M304.6 534.0h1.2M284.0 542.5h1.2M316.2 543.7h1.2M303.7 542.8h1.2M307.1 540.5h1.2M312.7 542.8h1.2M286.9 533.7h1.2M310.8 537.0h1.2M309.4 532.9h1.2M283.6 532.5h1.2M293.8 537.3h1.2M296.7 542.5h1.2M293.4 538.5h1.2M292.2 526.6h1.2M296.4 530.9h1.2M313.3 543.7h1.2M314.5 538.4h1.2M304.2 534.3h1.2M288.5 535.9h1.2M326.2 537.7h1.2M307.5 536.8h1.2M286.5 541.6h1.2M294.0 532.7h1.2M303.0 535.0h1.2M312.4 536.4h1.2M287.9 539.4h1.2M316.5 535.0h1.2M314.9 536.1h1.2M311.2 542.3h1.2M288.4 535.7h1.2M305.7 542.3h1.2M287.9 538.5h1.2M306.2 531.7h1.2M289.6 536.8h1.2M308.8 535.1h1.2M303.5 536.3h1.2M303.5 528.8h1.2M292.7 534.3h1.2M315.0 541.7h1.2M321.7 534.5h1.2M312.7 537.0h1.2M294.4 543.9h1.2M286.5 534.2h1.2M316.0 539.2h1.2M312.1 543.8h1.2M316.2 543.3h1.2M303.2 534.4h1.2M287.1 541.6h1.2M313.1 541.4h1.2M285.9 537.6h1.2M283.2 530.8h1.2M284.1 542.8h1.2M305.7 530.2h1.2M296.4 531.3h1.2M289.2 526.2h1.2M318.3 538.2h1.2M314.6 538.2h1.2M310.5 540.7h1.2M318.7 546.5h1.2M318.3 532.2h1.2M309.7 538.8h1.2M293.2 541.3h1.2M294.6 541.4h1.2M311.5 530.4h1.2M300.3 537.8h1.2M299.4 543.6h1.2M308.2 532.5h1.2M301.6 535.7h1.2M320.6 529.5h1.2M298.8 537.8h1.2M282.6 533.0h1.2M301.6 540.8h1.2M302.7 536.9h1.2M287.9 528.1h1.2" stroke="#111" stroke-width="1.2" fill="none"/>
<polygon points="264.3,593.0 262.8,580.0 263.8,565.0 265.8,560.8 268.3,561.3 271.3,567.0 272.8,571.5 276.3,567.6 278.2,566.6 276.8,573.0 274.3,582.0 271.3,592.0 267.8,594.0" fill="#6a6a6a" stroke="#c8c8c8" stroke-width=".9" stroke-linejoin="round"/>
<text font-size="10.6" text-anchor="middle" textLength="63.2" lengthAdjust="spacingAndGlyphs" x="430.4" y="492">MM.1S-GFP</text>
<text font-size="10.6" text-anchor="middle" textLength="49.5" lengthAdjust="spacingAndGlyphs" x="431" y="505.5">infiltration</text>
<text font-size="10.3" textLength="73.7" lengthAdjust="spacingAndGlyphs" transform="translate(377.3 583.5) rotate(-90)">% MM-BM cells</text>
<line x1="406.5" y1="513.5" x2="406.5" y2="580.8" stroke="#111" stroke-width="1.7"/>
<line x1="401" y1="580.0" x2="457" y2="580.0" stroke="#111" stroke-width="1.7"/>
<line x1="401" y1="517" x2="406.5" y2="517" stroke="#111" stroke-width="1.4"/>
<line x1="401" y1="548.3" x2="406.5" y2="548.3" stroke="#111" stroke-width="1.4"/>
<text font-size="9.8" text-anchor="end" x="398.4" y="520.3">1</text>
<text font-size="9.8" text-anchor="end" x="398.4" y="551.6">0.5</text>
<text font-size="9.8" text-anchor="end" x="398.4" y="583.2">0</text>
<line x1="419.7" y1="525" x2="419.7" y2="518.2" stroke="#111" stroke-width="1.5"/>
<line x1="415.2" y1="518.2" x2="424.2" y2="518.2" stroke="#111" stroke-width="1.5"/>
<rect x="411" y="524.7" width="17.4" height="55.299999999999955" fill="#0a0a0a"/>
<line x1="445" y1="547" x2="445" y2="545.4" stroke="#111" stroke-width="1.4"/>
<line x1="440.5" y1="545.4" x2="449.5" y2="545.4" stroke="#111" stroke-width="1.4"/>
<rect x="436.1" y="546.7" width="17.8" height="33.299999999999955" fill="#9a9a9a"/>
<text font-size="8.5" text-anchor="middle" x="445" y="542.9">*</text>
<line x1="419.6" y1="580.0" x2="419.6" y2="584.0" stroke="#111" stroke-width="1.4"/>
<line x1="445" y1="580.0" x2="445" y2="584.0" stroke="#111" stroke-width="1.4"/>
<text font-size="10.2" text-anchor="end" transform="translate(423 592.2) rotate(-45)">Vehicle</text>
<text font-size="10.2" text-anchor="end" transform="translate(448 591.7) rotate(-45)">GM-CSF</text>
<text font-size="10.2" text-anchor="end" transform="translate(454.5 603.5) rotate(-45)">+4-IPP</text>
<text font-size="11" font-style="italic" textLength="40.7" lengthAdjust="spacingAndGlyphs" x="63.75" y="700.7">GAPDH</text>
<text font-size="12.7" textLength="71.5" lengthAdjust="spacingAndGlyphs" transform="translate(19.6 779) rotate(-90)">Relative mRNA</text>
<text font-size="12.7" textLength="27.5" lengthAdjust="spacingAndGlyphs" transform="translate(34.6 757.5) rotate(-90)">levels</text>
<line x1="58.6" y1="707.5" x2="58.6" y2="777.5" stroke="#111" stroke-width="1.7"/>
<line x1="55" y1="776.7" x2="110" y2="776.7" stroke="#111" stroke-width="1.7"/>
<line x1="55" y1="711.7" x2="58.6" y2="711.7" stroke="#111" stroke-width="1.4"/>
<text font-size="9.8" text-anchor="end" x="51.5" y="715.2">10</text>
<line x1="55" y1="724.7" x2="58.6" y2="724.7" stroke="#111" stroke-width="1.4"/>
<text font-size="9.8" text-anchor="end" x="51.5" y="728.2">8</text>
<line x1="55" y1="737.7" x2="58.6" y2="737.7" stroke="#111" stroke-width="1.4"/>
<text font-size="9.8" text-anchor="end" x="51.5" y="741.2">6</text>
<line x1="55" y1="750.7" x2="58.6" y2="750.7" stroke="#111" stroke-width="1.4"/>
<text font-size="9.8" text-anchor="end" x="51.5" y="754.2">4</text>
<line x1="55" y1="763.7" x2="58.6" y2="763.7" stroke="#111" stroke-width="1.4"/>
<text font-size="9.8" text-anchor="end" x="51.5" y="767.2">2</text>
<text font-size="9.8" text-anchor="end" x="51.5" y="780.2">0</text>
<line x1="71.7" y1="728.2" x2="71.7" y2="717" stroke="#111" stroke-width="1.5"/>
<line x1="66.95" y1="717" x2="76.45" y2="717" stroke="#111" stroke-width="1.5"/>
<rect x="63.2" y="728.2" width="17.2" height="48.5" fill="#0a0a0a"/>
<line x1="97.5" y1="757.5" x2="97.5" y2="753.2" stroke="#111" stroke-width="1.5"/>
<line x1="92.75" y1="753.2" x2="102.25" y2="753.2" stroke="#111" stroke-width="1.5"/>
<rect x="89.2" y="757.5" width="17" height="19.200000000000045" fill="#9a9a9a"/>
<text font-size="8.5" text-anchor="middle" x="97.5" y="750.2">*</text>
<line x1="71.7" y1="776.7" x2="71.7" y2="780.7" stroke="#111" stroke-width="1.4"/>
<line x1="97.5" y1="776.7" x2="97.5" y2="780.7" stroke="#111" stroke-width="1.4"/>
<text font-size="10.2" text-anchor="end" transform="translate(75.3 789.6) rotate(-45)">Vehicle</text>
<text font-size="10.2" text-anchor="end" transform="translate(100.2 790) rotate(-45)">GM-CSF</text>
<text font-size="10.2" text-anchor="end" transform="translate(105.8 801) rotate(-45)">+4-IPP</text>
<text font-size="11.5" text-anchor="middle" textLength="25.5" lengthAdjust="spacingAndGlyphs" x="301.5" y="656.2">NSG</text>
<line x1="188.75" y1="657.5" x2="188.75" y2="827.7" stroke="#111" stroke-width="1.7"/>
<line x1="183.5" y1="661" x2="188.75" y2="661" stroke="#111" stroke-width="1.4"/>
<line x1="183.5" y1="694.2" x2="188.75" y2="694.2" stroke="#111" stroke-width="1.4"/>
<line x1="183.5" y1="760.5" x2="188.75" y2="760.5" stroke="#111" stroke-width="1.4"/>
<line x1="183.5" y1="793.7" x2="188.75" y2="793.7" stroke="#111" stroke-width="1.4"/>
<text font-size="9.8" text-anchor="end" x="180.7" y="664.5">3</text>
<text font-size="9.8" text-anchor="end" x="180.7" y="704.5">2</text>
<text font-size="9.8" text-anchor="end" x="180.7" y="746.0">1</text>
<text font-size="9.8" text-anchor="end" x="180.7" y="786.0">0</text>
<text font-size="9.8" text-anchor="end" x="180.7" y="830.5">-1</text>
<text font-size="11.4" textLength="92.7" lengthAdjust="spacingAndGlyphs" transform="translate(153.7 791) rotate(-90)">Relative expression</text>
<text font-size="11.4" textLength="140" lengthAdjust="spacingAndGlyphs" transform="translate(168 815) rotate(-90)">GM-CSF+4-IPP / vehicle (log)</text>
<line x1="199.6" y1="768.2" x2="199.6" y2="782.3" stroke="#111" stroke-width="1.4"/>
<line x1="195.6" y1="782.3" x2="203.6" y2="782.3" stroke="#111" stroke-width="1.4"/>
<rect x="192.5" y="727.3" width="14.2" height="40.90000000000009" fill="#0a0a0a"/>
<text font-size="9.3" text-anchor="middle" x="199.6" y="795.3000000000001">*</text>
<line x1="199.6" y1="724.8" x2="199.6" y2="730" stroke="#111" stroke-width="1.3"/>
<line x1="199.6" y1="827" x2="199.6" y2="830.5" stroke="#111" stroke-width="1.3"/>
<text font-size="9.3" text-anchor="end" font-style="italic" transform="translate(202.6 840) rotate(-45)">Stab1</text>
<line x1="219.85" y1="797" x2="219.85" y2="815.3" stroke="#111" stroke-width="1.4"/>
<line x1="215.85" y1="815.3" x2="223.85" y2="815.3" stroke="#111" stroke-width="1.4"/>
<rect x="212.75" y="727.3" width="14.2" height="69.70000000000005" fill="#0a0a0a"/>
<line x1="219.85" y1="724.8" x2="219.85" y2="730" stroke="#111" stroke-width="1.3"/>
<line x1="219.85" y1="827" x2="219.85" y2="830.5" stroke="#111" stroke-width="1.3"/>
<text font-size="9.3" text-anchor="end" font-style="italic" transform="translate(222.85 840) rotate(-45)">Mgl-1</text>
<line x1="240.1" y1="747.6" x2="240.1" y2="762" stroke="#111" stroke-width="1.4"/>
<line x1="236.1" y1="762" x2="244.1" y2="762" stroke="#111" stroke-width="1.4"/>
<rect x="233.0" y="727.3" width="14.2" height="20.300000000000068" fill="#0a0a0a"/>
<line x1="240.1" y1="724.8" x2="240.1" y2="730" stroke="#111" stroke-width="1.3"/>
<line x1="240.1" y1="827" x2="240.1" y2="830.5" stroke="#111" stroke-width="1.3"/>
<text font-size="9.3" text-anchor="end" font-style="italic" transform="translate(243.1 840) rotate(-45)">S1pr1</text>
<line x1="260.35" y1="755.8" x2="260.35" y2="778.5" stroke="#111" stroke-width="1.4"/>
<line x1="256.35" y1="778.5" x2="264.35" y2="778.5" stroke="#111" stroke-width="1.4"/>
<rect x="253.25" y="727.3" width="14.2" height="28.5" fill="#0a0a0a"/>
<line x1="260.35" y1="724.8" x2="260.35" y2="730" stroke="#111" stroke-width="1.3"/>
<line x1="260.35" y1="827" x2="260.35" y2="830.5" stroke="#111" stroke-width="1.3"/>
<text font-size="9.3" text-anchor="end" font-style="italic" transform="translate(263.35 840) rotate(-45)">Ctla2b</text>
<line x1="280.6" y1="729" x2="280.6" y2="730.7" stroke="#111" stroke-width="1.4"/>
<line x1="276.6" y1="730.7" x2="284.6" y2="730.7" stroke="#111" stroke-width="1.4"/>
<rect x="273.5" y="727.3" width="14.2" height="1.7000000000000455" fill="#0a0a0a"/>
<line x1="280.6" y1="724.8" x2="280.6" y2="730" stroke="#111" stroke-width="1.3"/>
<line x1="280.6" y1="827" x2="280.6" y2="830.5" stroke="#111" stroke-width="1.3"/>
<text font-size="9.3" text-anchor="end" font-style="italic" transform="translate(283.6 840) rotate(-45)">Cd163</text>
<line x1="300.85" y1="707.5" x2="300.85" y2="700" stroke="#111" stroke-width="1.4"/>
<line x1="296.85" y1="700" x2="304.85" y2="700" stroke="#111" stroke-width="1.4"/>
<rect x="293.75" y="707.5" width="14.2" height="19.799999999999955" fill="#c9c9c9"/>
<text font-size="9.3" text-anchor="middle" x="300.85" y="697.8000000000001">*</text>
<line x1="300.85" y1="724.8" x2="300.85" y2="730" stroke="#111" stroke-width="1.3"/>
<line x1="300.85" y1="827" x2="300.85" y2="830.5" stroke="#111" stroke-width="1.3"/>
<text font-size="9.3" text-anchor="end" font-style="italic" transform="translate(303.85 840) rotate(-45)">Inhibin</text>
<line x1="321.1" y1="702.5" x2="321.1" y2="685.75" stroke="#111" stroke-width="1.4"/>
<line x1="317.1" y1="685.75" x2="325.1" y2="685.75" stroke="#111" stroke-width="1.4"/>
<rect x="314.0" y="702.5" width="14.2" height="24.799999999999955" fill="#c9c9c9"/>
<line x1="321.1" y1="724.8" x2="321.1" y2="730" stroke="#111" stroke-width="1.3"/>
<line x1="321.1" y1="827" x2="321.1" y2="830.5" stroke="#111" stroke-width="1.3"/>
<text font-size="9.3" text-anchor="end" font-style="italic" transform="translate(324.1 840) rotate(-45)">Aldh2</text>
<line x1="341.35" y1="704.25" x2="341.35" y2="703.6" stroke="#111" stroke-width="1.4"/>
<line x1="337.35" y1="703.6" x2="345.35" y2="703.6" stroke="#111" stroke-width="1.4"/>
<rect x="334.25" y="704.25" width="14.2" height="23.049999999999955" fill="#c9c9c9"/>
<text font-size="9.3" letter-spacing="0.8" text-anchor="middle" x="341.75" y="702.3000000000001">**</text>
<line x1="341.35" y1="724.8" x2="341.35" y2="730" stroke="#111" stroke-width="1.3"/>
<line x1="341.35" y1="827" x2="341.35" y2="830.5" stroke="#111" stroke-width="1.3"/>
<text font-size="9.3" text-anchor="end" font-style="italic" transform="translate(344.35 840) rotate(-45)">Inos</text>
<line x1="361.6" y1="683" x2="361.6" y2="677.5" stroke="#111" stroke-width="1.4"/>
<line x1="357.6" y1="677.5" x2="365.6" y2="677.5" stroke="#111" stroke-width="1.4"/>
<rect x="354.5" y="683" width="14.2" height="44.299999999999955" fill="#c9c9c9"/>
<text font-size="9.3" text-anchor="middle" x="361.6" y="675.8000000000001">*</text>
<line x1="361.6" y1="724.8" x2="361.6" y2="730" stroke="#111" stroke-width="1.3"/>
<line x1="361.6" y1="827" x2="361.6" y2="830.5" stroke="#111" stroke-width="1.3"/>
<text font-size="9.3" text-anchor="end" font-style="italic" transform="translate(364.6 840) rotate(-45)">Ccr7</text>
<line x1="381.85" y1="702" x2="381.85" y2="697.5" stroke="#111" stroke-width="1.4"/>
<line x1="377.85" y1="697.5" x2="385.85" y2="697.5" stroke="#111" stroke-width="1.4"/>
<rect x="374.75" y="702" width="14.2" height="25.299999999999955" fill="#c9c9c9"/>
<text font-size="9.3" text-anchor="middle" x="381.85" y="695.8000000000001">*</text>
<line x1="381.85" y1="724.8" x2="381.85" y2="730" stroke="#111" stroke-width="1.3"/>
<line x1="381.85" y1="827" x2="381.85" y2="830.5" stroke="#111" stroke-width="1.3"/>
<text font-size="9.3" text-anchor="end" font-style="italic" transform="translate(384.85 840) rotate(-45)">Tnf</text>
<line x1="402.1" y1="716.25" x2="402.1" y2="712.5" stroke="#111" stroke-width="1.4"/>
<line x1="398.1" y1="712.5" x2="406.1" y2="712.5" stroke="#111" stroke-width="1.4"/>
<rect x="395.0" y="716.25" width="14.2" height="11.049999999999955" fill="#c9c9c9"/>
<text font-size="9.3" text-anchor="middle" x="402.1" y="710.8000000000001">*</text>
<line x1="402.1" y1="724.8" x2="402.1" y2="730" stroke="#111" stroke-width="1.3"/>
<line x1="402.1" y1="827" x2="402.1" y2="830.5" stroke="#111" stroke-width="1.3"/>
<text font-size="9.3" text-anchor="end" font-style="italic" transform="translate(405.1 840) rotate(-45)">Egln3</text>
<line x1="187.95" y1="727.3" x2="413" y2="727.3" stroke="#111" stroke-width="2"/>
<line x1="187.95" y1="827" x2="413" y2="827" stroke="#111" stroke-width="1.6"/>
<line x1="189.5" y1="869.3" x2="279.3" y2="869.3" stroke="#111" stroke-width="1.4"/>
<line x1="189.5" y1="864.3" x2="189.5" y2="874.3" stroke="#111" stroke-width="1.4"/>
<line x1="279.3" y1="864.3" x2="279.3" y2="874.3" stroke="#111" stroke-width="1.4"/>
<line x1="283" y1="869.3" x2="402.5" y2="869.3" stroke="#111" stroke-width="1.4"/>
<line x1="283" y1="864.3" x2="283" y2="874.3" stroke="#111" stroke-width="1.4"/>
<line x1="402.5" y1="864.3" x2="402.5" y2="874.3" stroke="#111" stroke-width="1.4"/>
<text font-size="9.6" textLength="51.2" lengthAdjust="spacingAndGlyphs" x="208.2" y="885">M2 GENES</text>
<text font-size="9.6" textLength="51.2" lengthAdjust="spacingAndGlyphs" x="317" y="885">M1 GENES</text>
</svg>
</body></html>
